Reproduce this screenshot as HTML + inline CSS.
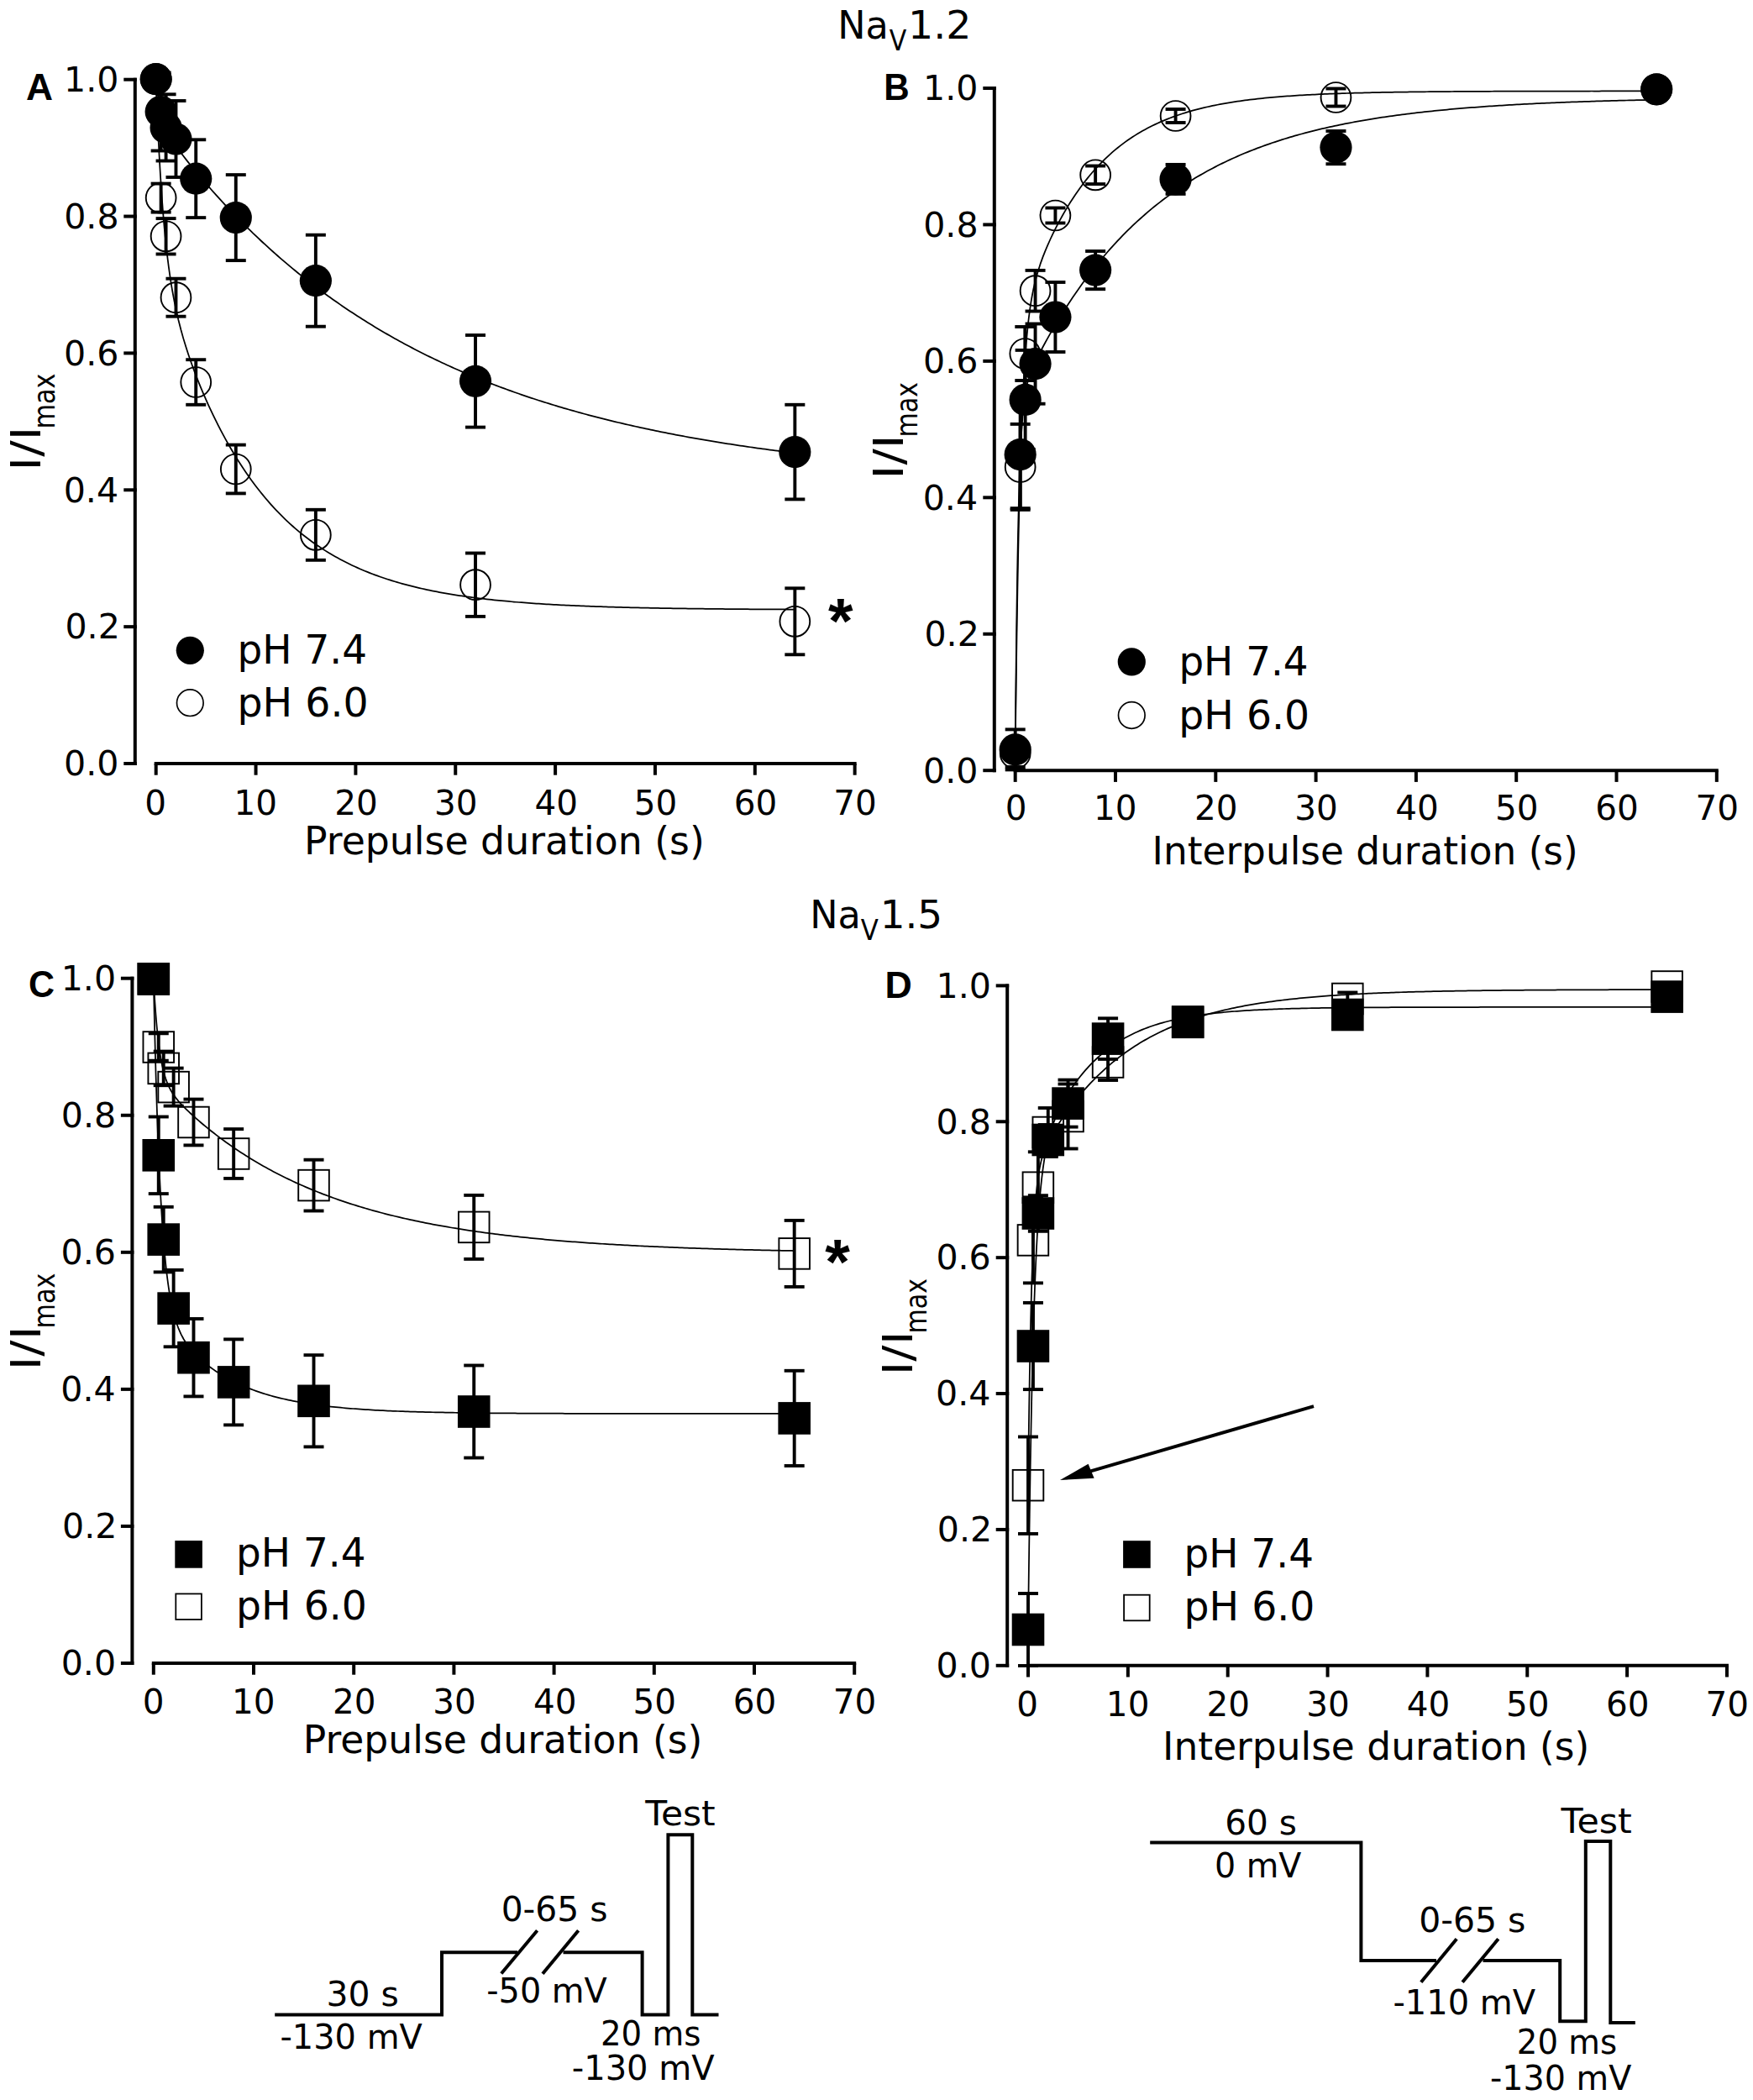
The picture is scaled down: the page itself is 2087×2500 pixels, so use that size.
<!DOCTYPE html>
<html><head><meta charset="utf-8"><title>Figure</title>
<style>html,body{margin:0;padding:0;background:#fff;overflow:hidden}svg{display:block}text{fill:#000;font-kerning:normal;white-space:pre}</style></head>
<body><svg width="2087" height="2500" viewBox="0 0 2087 2500">
<rect width="2087" height="2500" fill="#fff"/>
<line x1="160.8" y1="92.7" x2="160.8" y2="911" stroke="#000" stroke-width="4" stroke-linecap="butt"/>
<line x1="147.3" y1="909" x2="162.8" y2="909" stroke="#000" stroke-width="4" stroke-linecap="butt"/>
<text transform="translate(76.11,923.3) scale(1.0150,1)" font-size="40.5" font-family='"DejaVu Sans", "Liberation Sans", sans-serif'>0.0</text>
<line x1="147.3" y1="746.14" x2="162.8" y2="746.14" stroke="#000" stroke-width="4" stroke-linecap="butt"/>
<text transform="translate(77.45,760.44) scale(1.0150,1)" font-size="40.5" font-family='"DejaVu Sans", "Liberation Sans", sans-serif'>0.2</text>
<line x1="147.3" y1="583.28" x2="162.8" y2="583.28" stroke="#000" stroke-width="4" stroke-linecap="butt"/>
<text transform="translate(75.7,597.58) scale(1.0150,1)" font-size="40.5" font-family='"DejaVu Sans", "Liberation Sans", sans-serif'>0.4</text>
<line x1="147.3" y1="420.42" x2="162.8" y2="420.42" stroke="#000" stroke-width="4" stroke-linecap="butt"/>
<text transform="translate(76.01,434.72) scale(1.0150,1)" font-size="40.5" font-family='"DejaVu Sans", "Liberation Sans", sans-serif'>0.6</text>
<line x1="147.3" y1="257.56" x2="162.8" y2="257.56" stroke="#000" stroke-width="4" stroke-linecap="butt"/>
<text transform="translate(76.21,271.86) scale(1.0150,1)" font-size="40.5" font-family='"DejaVu Sans", "Liberation Sans", sans-serif'>0.8</text>
<line x1="147.3" y1="94.7" x2="162.8" y2="94.7" stroke="#000" stroke-width="4" stroke-linecap="butt"/>
<text transform="translate(76.11,109) scale(1.0150,1)" font-size="40.5" font-family='"DejaVu Sans", "Liberation Sans", sans-serif'>1.0</text>
<line x1="183.7" y1="909" x2="1019.65" y2="909" stroke="#000" stroke-width="4" stroke-linecap="butt"/>
<line x1="185.7" y1="909" x2="185.7" y2="922.7" stroke="#000" stroke-width="4" stroke-linecap="butt"/>
<text transform="translate(172.24,969.8) scale(1.0000,1)" font-size="40.5" font-family='"DejaVu Sans", "Liberation Sans", sans-serif'>0</text>
<line x1="304.55" y1="909" x2="304.55" y2="922.7" stroke="#000" stroke-width="4" stroke-linecap="butt"/>
<text transform="translate(278.57,969.8) scale(1.0000,1)" font-size="40.5" font-family='"DejaVu Sans", "Liberation Sans", sans-serif'>10</text>
<line x1="423.4" y1="909" x2="423.4" y2="922.7" stroke="#000" stroke-width="4" stroke-linecap="butt"/>
<text transform="translate(398.18,969.8) scale(1.0000,1)" font-size="40.5" font-family='"DejaVu Sans", "Liberation Sans", sans-serif'>20</text>
<line x1="542.25" y1="909" x2="542.25" y2="922.7" stroke="#000" stroke-width="4" stroke-linecap="butt"/>
<text transform="translate(516.98,969.8) scale(1.0000,1)" font-size="40.5" font-family='"DejaVu Sans", "Liberation Sans", sans-serif'>30</text>
<line x1="661.1" y1="909" x2="661.1" y2="922.7" stroke="#000" stroke-width="4" stroke-linecap="butt"/>
<text transform="translate(636.39,969.8) scale(1.0000,1)" font-size="40.5" font-family='"DejaVu Sans", "Liberation Sans", sans-serif'>40</text>
<line x1="779.95" y1="909" x2="779.95" y2="922.7" stroke="#000" stroke-width="4" stroke-linecap="butt"/>
<text transform="translate(754.63,969.8) scale(1.0000,1)" font-size="40.5" font-family='"DejaVu Sans", "Liberation Sans", sans-serif'>50</text>
<line x1="898.8" y1="909" x2="898.8" y2="922.7" stroke="#000" stroke-width="4" stroke-linecap="butt"/>
<text transform="translate(873.63,969.8) scale(1.0000,1)" font-size="40.5" font-family='"DejaVu Sans", "Liberation Sans", sans-serif'>60</text>
<line x1="1017.65" y1="909" x2="1017.65" y2="922.7" stroke="#000" stroke-width="4" stroke-linecap="butt"/>
<text transform="translate(992.23,969.8) scale(1.0000,1)" font-size="40.5" font-family='"DejaVu Sans", "Liberation Sans", sans-serif'>70</text>
<text transform="translate(362.04,1017) scale(0.9951,1)" font-size="46" font-family='"DejaVu Sans", "Liberation Sans", sans-serif'>Prepulse duration (s)</text>
<text transform="translate(47.9,560.82) rotate(-90) scale(1.1521,1)" font-size="50" font-family='"DejaVu Sans", "Liberation Sans", sans-serif'>I/I</text>
<text transform="translate(65.1,510.58) rotate(-90) scale(0.8533,1)" font-size="35.5" font-family='"DejaVu Sans", "Liberation Sans", sans-serif'>max</text>
<text transform="translate(30.89,118.7) scale(1.0075,1)" font-size="44" font-family='"Liberation Sans", sans-serif' font-weight="bold">A</text>
<polyline points="185.7,94.7 186,97.24 186.29,99.68 186.59,102.03 186.89,104.3 187.19,106.49 187.48,108.59 187.78,110.63 188.08,112.59 188.37,114.48 188.67,116.31 188.97,118.07 189.27,119.77 189.56,121.42 189.86,123.01 190.16,124.55 190.45,126.04 190.75,127.48 191.05,128.87 191.35,130.22 191.64,131.53 191.94,132.8 192.24,134.03 192.53,135.23 192.83,136.38 193.13,137.51 193.43,138.6 193.72,139.66 194.02,140.7 194.32,141.7 194.61,142.68 194.91,143.63 195.21,144.56 195.51,145.46 195.8,146.35 196.1,147.21 196.4,148.04 196.69,148.86 196.99,149.67 197.29,150.45 197.58,151.21 197.88,151.96 198.18,152.7 198.48,153.41 198.77,154.12 199.07,154.81 199.37,155.48 199.66,156.15 199.96,156.8 200.26,157.44 200.56,158.07 200.85,158.69 201.15,159.29 201.45,159.89 201.74,160.48 202.04,161.06 202.34,161.63 202.64,162.2 202.93,162.75 203.23,163.3 203.53,163.84 203.82,164.37 204.12,164.9 204.42,165.42 204.72,165.94 205.01,166.44 205.31,166.95 205.61,167.44 205.9,167.94 206.2,168.42 206.5,168.91 206.8,169.39 207.09,169.86 207.39,170.33 207.69,170.8 207.98,171.26 208.28,171.72 208.58,172.17 208.88,172.62 209.17,173.07 209.47,173.51 212.43,177.8 215.39,181.87 218.35,185.8 221.31,189.63 224.27,193.37 227.23,197.06 230.19,200.69 233.14,204.27 236.1,207.81 239.06,211.32 242.02,214.79 244.98,218.22 247.94,221.62 250.9,224.99 253.86,228.32 256.82,231.63 259.78,234.9 262.74,238.14 265.7,241.35 268.66,244.53 271.62,247.68 274.57,250.8 277.53,253.89 280.49,256.95 283.45,259.98 286.41,262.98 289.37,265.95 292.33,268.9 295.29,271.82 298.25,274.71 301.21,277.57 304.17,280.41 307.13,283.22 310.09,286 313.05,288.75 316.01,291.48 318.96,294.19 321.92,296.87 324.88,299.52 327.84,302.15 330.8,304.75 333.76,307.33 336.72,309.88 339.68,312.41 342.64,314.92 345.6,317.4 348.56,319.86 351.52,322.29 354.48,324.7 357.44,327.09 360.4,329.46 363.35,331.8 366.31,334.13 369.27,336.43 372.23,338.7 375.19,340.96 378.15,343.2 381.11,345.41 384.07,347.6 387.03,349.77 389.99,351.93 392.95,354.06 395.91,356.17 398.87,358.26 401.83,360.33 404.78,362.38 407.74,364.41 410.7,366.43 413.66,368.42 416.62,370.4 419.58,372.35 422.54,374.29 425.5,376.21 428.46,378.11 431.42,379.99 434.38,381.86 437.34,383.71 440.3,385.54 443.26,387.35 446.22,389.14 449.17,390.92 452.13,392.68 455.09,394.43 458.05,396.16 461.01,397.87 463.97,399.56 466.93,401.24 469.89,402.91 472.85,404.56 475.81,406.19 478.77,407.81 481.73,409.41 484.69,410.99 487.65,412.57 490.61,414.12 493.56,415.66 496.52,417.19 499.48,418.7 502.44,420.2 505.4,421.69 508.36,423.16 511.32,424.61 514.28,426.05 517.24,427.48 520.2,428.9 523.16,430.3 526.12,431.69 529.08,433.06 532.04,434.43 534.99,435.78 537.95,437.11 540.91,438.44 543.87,439.75 546.83,441.05 549.79,442.33 552.75,443.61 555.71,444.87 558.67,446.12 561.63,447.36 564.59,448.59 567.55,449.8 570.51,451 573.47,452.2 576.43,453.38 579.38,454.55 582.34,455.71 585.3,456.85 588.26,457.99 591.22,459.12 594.18,460.23 597.14,461.34 600.1,462.43 603.06,463.52 606.02,464.59 608.98,465.65 611.94,466.71 614.9,467.75 617.86,468.78 620.82,469.81 623.77,470.82 626.73,471.83 629.69,472.82 632.65,473.81 635.61,474.78 638.57,475.75 641.53,476.71 644.49,477.66 647.45,478.6 650.41,479.53 653.37,480.45 656.33,481.36 659.29,482.27 662.25,483.16 665.2,484.05 668.16,484.93 671.12,485.8 674.08,486.66 677.04,487.52 680,488.36 682.96,489.2 685.92,490.03 688.88,490.85 691.84,491.67 694.8,492.48 697.76,493.27 700.72,494.07 703.68,494.85 706.64,495.63 709.59,496.4 712.55,497.16 715.51,497.91 718.47,498.66 721.43,499.4 724.39,500.14 727.35,500.86 730.31,501.58 733.27,502.3 736.23,503 739.19,503.7 742.15,504.39 745.11,505.08 748.07,505.76 751.03,506.43 753.98,507.1 756.94,507.76 759.9,508.42 762.86,509.06 765.82,509.71 768.78,510.34 771.74,510.97 774.7,511.6 777.66,512.21 780.62,512.83 783.58,513.43 786.54,514.03 789.5,514.63 792.46,515.22 795.41,515.8 798.37,516.38 801.33,516.95 804.29,517.52 807.25,518.08 810.21,518.64 813.17,519.19 816.13,519.74 819.09,520.28 822.05,520.81 825.01,521.34 827.97,521.87 830.93,522.39 833.89,522.91 836.85,523.42 839.8,523.92 842.76,524.42 845.72,524.92 848.68,525.41 851.64,525.9 854.6,526.38 857.56,526.86 860.52,527.33 863.48,527.8 866.44,528.27 869.4,528.73 872.36,529.18 875.32,529.63 878.28,530.08 881.24,530.52 884.19,530.96 887.15,531.4 890.11,531.83 893.07,532.25 896.03,532.68 898.99,533.09 901.95,533.51 904.91,533.92 907.87,534.33 910.83,534.73 913.79,535.13 916.75,535.52 919.71,535.91 922.67,536.3 925.62,536.68 928.58,537.07 931.54,537.44 934.5,537.82 937.46,538.18 940.42,538.55 943.38,538.91 946.34,539.27" fill="none" stroke="#000" stroke-width="1.75" stroke-linejoin="round"/>
<polyline points="185.7,99.24 186,106.98 186.29,114.49 186.59,121.79 186.89,128.88 187.19,135.78 187.48,142.48 187.78,149 188.08,155.33 188.37,161.5 188.67,167.49 188.97,173.32 189.27,178.99 189.56,184.51 189.86,189.88 190.16,195.11 190.45,200.2 190.75,205.16 191.05,209.99 191.35,214.69 191.64,219.26 191.94,223.73 192.24,228.07 192.53,232.31 192.83,236.44 193.13,240.47 193.43,244.39 193.72,248.22 194.02,251.96 194.32,255.6 194.61,259.16 194.91,262.63 195.21,266.02 195.51,269.33 195.8,272.56 196.1,275.72 196.4,278.8 196.69,281.82 196.99,284.77 197.29,287.65 197.58,290.46 197.88,293.22 198.18,295.92 198.48,298.55 198.77,301.14 199.07,303.66 199.37,306.14 199.66,308.56 199.96,310.94 200.26,313.26 200.56,315.54 200.85,317.78 201.15,319.97 201.45,322.12 201.74,324.23 202.04,326.3 202.34,328.33 202.64,330.32 202.93,332.28 203.23,334.2 203.53,336.09 203.82,337.94 204.12,339.77 204.42,341.56 204.72,343.32 205.01,345.05 205.31,346.76 205.61,348.44 205.9,350.09 206.2,351.71 206.5,353.31 206.8,354.89 207.09,356.44 207.39,357.97 207.69,359.48 207.98,360.97 208.28,362.43 208.58,363.88 208.88,365.31 209.17,366.71 209.47,368.1 212.43,381.02 215.39,392.59 218.35,403.12 221.31,412.86 224.27,421.97 227.23,430.57 230.19,438.76 233.14,446.59 236.1,454.12 239.06,461.38 242.02,468.4 244.98,475.2 247.94,481.79 250.9,488.2 253.86,494.42 256.82,500.48 259.78,506.37 262.74,512.1 265.7,517.68 268.66,523.11 271.62,528.39 274.57,533.54 277.53,538.55 280.49,543.44 283.45,548.19 286.41,552.82 289.37,557.33 292.33,561.72 295.29,566 298.25,570.16 301.21,574.22 304.17,578.17 307.13,582.02 310.09,585.77 313.05,589.42 316.01,592.98 318.96,596.44 321.92,599.81 324.88,603.1 327.84,606.3 330.8,609.42 333.76,612.45 336.72,615.41 339.68,618.29 342.64,621.09 345.6,623.82 348.56,626.48 351.52,629.07 354.48,631.6 357.44,634.06 360.4,636.45 363.35,638.78 366.31,641.05 369.27,643.26 372.23,645.42 375.19,647.52 378.15,649.56 381.11,651.55 384.07,653.49 387.03,655.38 389.99,657.22 392.95,659.01 395.91,660.75 398.87,662.45 401.83,664.11 404.78,665.72 407.74,667.29 410.7,668.82 413.66,670.31 416.62,671.76 419.58,673.17 422.54,674.54 425.5,675.88 428.46,677.19 431.42,678.46 434.38,679.7 437.34,680.91 440.3,682.08 443.26,683.22 446.22,684.34 449.17,685.42 452.13,686.48 455.09,687.51 458.05,688.51 461.01,689.49 463.97,690.44 466.93,691.37 469.89,692.27 472.85,693.15 475.81,694 478.77,694.84 481.73,695.65 484.69,696.44 487.65,697.21 490.61,697.96 493.56,698.69 496.52,699.4 499.48,700.09 502.44,700.77 505.4,701.43 508.36,702.07 511.32,702.69 514.28,703.3 517.24,703.89 520.2,704.47 523.16,705.03 526.12,705.57 529.08,706.11 532.04,706.62 534.99,707.13 537.95,707.62 540.91,708.1 543.87,708.57 546.83,709.02 549.79,709.46 552.75,709.89 555.71,710.31 558.67,710.72 561.63,711.12 564.59,711.51 567.55,711.89 570.51,712.26 573.47,712.61 576.43,712.96 579.38,713.3 582.34,713.63 585.3,713.96 588.26,714.27 591.22,714.58 594.18,714.87 597.14,715.17 600.1,715.45 603.06,715.72 606.02,715.99 608.98,716.25 611.94,716.51 614.9,716.75 617.86,717 620.82,717.23 623.77,717.46 626.73,717.68 629.69,717.9 632.65,718.11 635.61,718.32 638.57,718.52 641.53,718.71 644.49,718.9 647.45,719.09 650.41,719.27 653.37,719.45 656.33,719.62 659.29,719.78 662.25,719.95 665.2,720.1 668.16,720.26 671.12,720.41 674.08,720.55 677.04,720.7 680,720.84 682.96,720.97 685.92,721.1 688.88,721.23 691.84,721.36 694.8,721.48 697.76,721.6 700.72,721.71 703.68,721.82 706.64,721.93 709.59,722.04 712.55,722.14 715.51,722.24 718.47,722.34 721.43,722.44 724.39,722.53 727.35,722.62 730.31,722.71 733.27,722.8 736.23,722.88 739.19,722.96 742.15,723.04 745.11,723.12 748.07,723.2 751.03,723.27 753.98,723.34 756.94,723.41 759.9,723.48 762.86,723.55 765.82,723.61 768.78,723.67 771.74,723.73 774.7,723.79 777.66,723.85 780.62,723.91 783.58,723.96 786.54,724.02 789.5,724.07 792.46,724.12 795.41,724.17 798.37,724.22 801.33,724.26 804.29,724.31 807.25,724.36 810.21,724.4 813.17,724.44 816.13,724.48 819.09,724.52 822.05,724.56 825.01,724.6 827.97,724.64 830.93,724.67 833.89,724.71 836.85,724.74 839.8,724.78 842.76,724.81 845.72,724.84 848.68,724.87 851.64,724.9 854.6,724.93 857.56,724.96 860.52,724.99 863.48,725.01 866.44,725.04 869.4,725.07 872.36,725.09 875.32,725.11 878.28,725.14 881.24,725.16 884.19,725.18 887.15,725.21 890.11,725.23 893.07,725.25 896.03,725.27 898.99,725.29 901.95,725.31 904.91,725.33 907.87,725.34 910.83,725.36 913.79,725.38 916.75,725.4 919.71,725.41 922.67,725.43 925.62,725.44 928.58,725.46 931.54,725.47 934.5,725.49 937.46,725.5 940.42,725.51 943.38,725.53 946.34,725.54" fill="none" stroke="#000" stroke-width="1.75" stroke-linejoin="round"/>
<line x1="191.64" y1="218.6" x2="191.64" y2="252.6" stroke="#000" stroke-width="3.9" stroke-linecap="butt"/>
<line x1="179.64" y1="218.6" x2="203.64" y2="218.6" stroke="#000" stroke-width="3.9" stroke-linecap="butt"/>
<line x1="179.64" y1="252.6" x2="203.64" y2="252.6" stroke="#000" stroke-width="3.9" stroke-linecap="butt"/>
<line x1="197.58" y1="260.1" x2="197.58" y2="302.5" stroke="#000" stroke-width="3.9" stroke-linecap="butt"/>
<line x1="185.58" y1="260.1" x2="209.58" y2="260.1" stroke="#000" stroke-width="3.9" stroke-linecap="butt"/>
<line x1="185.58" y1="302.5" x2="209.58" y2="302.5" stroke="#000" stroke-width="3.9" stroke-linecap="butt"/>
<line x1="209.47" y1="331.7" x2="209.47" y2="376.7" stroke="#000" stroke-width="3.9" stroke-linecap="butt"/>
<line x1="197.47" y1="331.7" x2="221.47" y2="331.7" stroke="#000" stroke-width="3.9" stroke-linecap="butt"/>
<line x1="197.47" y1="376.7" x2="221.47" y2="376.7" stroke="#000" stroke-width="3.9" stroke-linecap="butt"/>
<line x1="233.24" y1="428.2" x2="233.24" y2="481.8" stroke="#000" stroke-width="3.9" stroke-linecap="butt"/>
<line x1="221.24" y1="428.2" x2="245.24" y2="428.2" stroke="#000" stroke-width="3.9" stroke-linecap="butt"/>
<line x1="221.24" y1="481.8" x2="245.24" y2="481.8" stroke="#000" stroke-width="3.9" stroke-linecap="butt"/>
<line x1="280.78" y1="529.6" x2="280.78" y2="587.4" stroke="#000" stroke-width="3.9" stroke-linecap="butt"/>
<line x1="268.78" y1="529.6" x2="292.78" y2="529.6" stroke="#000" stroke-width="3.9" stroke-linecap="butt"/>
<line x1="268.78" y1="587.4" x2="292.78" y2="587.4" stroke="#000" stroke-width="3.9" stroke-linecap="butt"/>
<line x1="375.86" y1="606.8" x2="375.86" y2="666.8" stroke="#000" stroke-width="3.9" stroke-linecap="butt"/>
<line x1="363.86" y1="606.8" x2="387.86" y2="606.8" stroke="#000" stroke-width="3.9" stroke-linecap="butt"/>
<line x1="363.86" y1="666.8" x2="387.86" y2="666.8" stroke="#000" stroke-width="3.9" stroke-linecap="butt"/>
<line x1="566.02" y1="658.5" x2="566.02" y2="733.9" stroke="#000" stroke-width="3.9" stroke-linecap="butt"/>
<line x1="554.02" y1="658.5" x2="578.02" y2="658.5" stroke="#000" stroke-width="3.9" stroke-linecap="butt"/>
<line x1="554.02" y1="733.9" x2="578.02" y2="733.9" stroke="#000" stroke-width="3.9" stroke-linecap="butt"/>
<line x1="946.34" y1="700.3" x2="946.34" y2="779.3" stroke="#000" stroke-width="3.9" stroke-linecap="butt"/>
<line x1="934.34" y1="700.3" x2="958.34" y2="700.3" stroke="#000" stroke-width="3.9" stroke-linecap="butt"/>
<line x1="934.34" y1="779.3" x2="958.34" y2="779.3" stroke="#000" stroke-width="3.9" stroke-linecap="butt"/>
<circle cx="185.7" cy="94.2" r="17.9" fill="none" stroke="#000" stroke-width="1.9"/>
<circle cx="191.64" cy="235.6" r="17.9" fill="none" stroke="#000" stroke-width="1.9"/>
<circle cx="197.58" cy="281.3" r="17.9" fill="none" stroke="#000" stroke-width="1.9"/>
<circle cx="209.47" cy="354.2" r="17.9" fill="none" stroke="#000" stroke-width="1.9"/>
<circle cx="233.24" cy="455" r="17.9" fill="none" stroke="#000" stroke-width="1.9"/>
<circle cx="280.78" cy="558.5" r="17.9" fill="none" stroke="#000" stroke-width="1.9"/>
<circle cx="375.86" cy="636.8" r="17.9" fill="none" stroke="#000" stroke-width="1.9"/>
<circle cx="566.02" cy="696.2" r="17.9" fill="none" stroke="#000" stroke-width="1.9"/>
<circle cx="946.34" cy="739.8" r="17.9" fill="none" stroke="#000" stroke-width="1.9"/>
<line x1="191.64" y1="86.5" x2="191.64" y2="179.5" stroke="#000" stroke-width="3.9" stroke-linecap="butt"/>
<line x1="179.64" y1="86.5" x2="203.64" y2="86.5" stroke="#000" stroke-width="3.9" stroke-linecap="butt"/>
<line x1="179.64" y1="179.5" x2="203.64" y2="179.5" stroke="#000" stroke-width="3.9" stroke-linecap="butt"/>
<line x1="197.58" y1="112.3" x2="197.58" y2="191.5" stroke="#000" stroke-width="3.9" stroke-linecap="butt"/>
<line x1="185.58" y1="112.3" x2="209.58" y2="112.3" stroke="#000" stroke-width="3.9" stroke-linecap="butt"/>
<line x1="185.58" y1="191.5" x2="209.58" y2="191.5" stroke="#000" stroke-width="3.9" stroke-linecap="butt"/>
<line x1="209.47" y1="120" x2="209.47" y2="211" stroke="#000" stroke-width="3.9" stroke-linecap="butt"/>
<line x1="197.47" y1="120" x2="221.47" y2="120" stroke="#000" stroke-width="3.9" stroke-linecap="butt"/>
<line x1="197.47" y1="211" x2="221.47" y2="211" stroke="#000" stroke-width="3.9" stroke-linecap="butt"/>
<line x1="233.24" y1="166.3" x2="233.24" y2="259.1" stroke="#000" stroke-width="3.9" stroke-linecap="butt"/>
<line x1="221.24" y1="166.3" x2="245.24" y2="166.3" stroke="#000" stroke-width="3.9" stroke-linecap="butt"/>
<line x1="221.24" y1="259.1" x2="245.24" y2="259.1" stroke="#000" stroke-width="3.9" stroke-linecap="butt"/>
<line x1="280.78" y1="208.1" x2="280.78" y2="310.1" stroke="#000" stroke-width="3.9" stroke-linecap="butt"/>
<line x1="268.78" y1="208.1" x2="292.78" y2="208.1" stroke="#000" stroke-width="3.9" stroke-linecap="butt"/>
<line x1="268.78" y1="310.1" x2="292.78" y2="310.1" stroke="#000" stroke-width="3.9" stroke-linecap="butt"/>
<line x1="375.86" y1="279.7" x2="375.86" y2="388.7" stroke="#000" stroke-width="3.9" stroke-linecap="butt"/>
<line x1="363.86" y1="279.7" x2="387.86" y2="279.7" stroke="#000" stroke-width="3.9" stroke-linecap="butt"/>
<line x1="363.86" y1="388.7" x2="387.86" y2="388.7" stroke="#000" stroke-width="3.9" stroke-linecap="butt"/>
<line x1="566.02" y1="399" x2="566.02" y2="508.6" stroke="#000" stroke-width="3.9" stroke-linecap="butt"/>
<line x1="554.02" y1="399" x2="578.02" y2="399" stroke="#000" stroke-width="3.9" stroke-linecap="butt"/>
<line x1="554.02" y1="508.6" x2="578.02" y2="508.6" stroke="#000" stroke-width="3.9" stroke-linecap="butt"/>
<line x1="946.34" y1="481.8" x2="946.34" y2="594.4" stroke="#000" stroke-width="3.9" stroke-linecap="butt"/>
<line x1="934.34" y1="481.8" x2="958.34" y2="481.8" stroke="#000" stroke-width="3.9" stroke-linecap="butt"/>
<line x1="934.34" y1="594.4" x2="958.34" y2="594.4" stroke="#000" stroke-width="3.9" stroke-linecap="butt"/>
<circle cx="185.7" cy="94.2" r="19.1"/>
<circle cx="191.64" cy="133" r="19.1"/>
<circle cx="197.58" cy="151.9" r="19.1"/>
<circle cx="209.47" cy="165.5" r="19.1"/>
<circle cx="233.24" cy="212.7" r="19.1"/>
<circle cx="280.78" cy="259.1" r="19.1"/>
<circle cx="375.86" cy="334.2" r="19.1"/>
<circle cx="566.02" cy="453.8" r="19.1"/>
<circle cx="946.34" cy="538.1" r="19.1"/>
<circle cx="226.3" cy="774.3" r="16.6"/>
<circle cx="226.3" cy="836.7" r="15.8" fill="none" stroke="#000" stroke-width="1.7"/>
<text transform="translate(282.58,790.4) scale(0.9688,1)" font-size="48.4" font-family='"DejaVu Sans", "Liberation Sans", sans-serif'>pH 7.4</text>
<text transform="translate(282.54,852.7) scale(0.9784,1)" font-size="48.4" font-family='"DejaVu Sans", "Liberation Sans", sans-serif'>pH 6.0</text>
<line x1="1183.8" y1="103" x2="1183.8" y2="919.2" stroke="#000" stroke-width="4" stroke-linecap="butt"/>
<line x1="1170.3" y1="917.2" x2="1185.8" y2="917.2" stroke="#000" stroke-width="4" stroke-linecap="butt"/>
<text transform="translate(1099.11,931.5) scale(1.0150,1)" font-size="40.5" font-family='"DejaVu Sans", "Liberation Sans", sans-serif'>0.0</text>
<line x1="1170.3" y1="754.76" x2="1185.8" y2="754.76" stroke="#000" stroke-width="4" stroke-linecap="butt"/>
<text transform="translate(1100.45,769.06) scale(1.0150,1)" font-size="40.5" font-family='"DejaVu Sans", "Liberation Sans", sans-serif'>0.2</text>
<line x1="1170.3" y1="592.32" x2="1185.8" y2="592.32" stroke="#000" stroke-width="4" stroke-linecap="butt"/>
<text transform="translate(1098.7,606.62) scale(1.0150,1)" font-size="40.5" font-family='"DejaVu Sans", "Liberation Sans", sans-serif'>0.4</text>
<line x1="1170.3" y1="429.88" x2="1185.8" y2="429.88" stroke="#000" stroke-width="4" stroke-linecap="butt"/>
<text transform="translate(1099.01,444.18) scale(1.0150,1)" font-size="40.5" font-family='"DejaVu Sans", "Liberation Sans", sans-serif'>0.6</text>
<line x1="1170.3" y1="267.44" x2="1185.8" y2="267.44" stroke="#000" stroke-width="4" stroke-linecap="butt"/>
<text transform="translate(1099.21,281.74) scale(1.0150,1)" font-size="40.5" font-family='"DejaVu Sans", "Liberation Sans", sans-serif'>0.8</text>
<line x1="1170.3" y1="105" x2="1185.8" y2="105" stroke="#000" stroke-width="4" stroke-linecap="butt"/>
<text transform="translate(1099.11,119.3) scale(1.0150,1)" font-size="40.5" font-family='"DejaVu Sans", "Liberation Sans", sans-serif'>1.0</text>
<line x1="1206.7" y1="917.2" x2="2045.8" y2="917.2" stroke="#000" stroke-width="4" stroke-linecap="butt"/>
<line x1="1208.7" y1="917.2" x2="1208.7" y2="930.9" stroke="#000" stroke-width="4" stroke-linecap="butt"/>
<text transform="translate(1196.64,975.8) scale(1.0000,1)" font-size="40.5" font-family='"DejaVu Sans", "Liberation Sans", sans-serif'>0</text>
<line x1="1328" y1="917.2" x2="1328" y2="930.9" stroke="#000" stroke-width="4" stroke-linecap="butt"/>
<text transform="translate(1302.02,975.8) scale(1.0000,1)" font-size="40.5" font-family='"DejaVu Sans", "Liberation Sans", sans-serif'>10</text>
<line x1="1447.3" y1="917.2" x2="1447.3" y2="930.9" stroke="#000" stroke-width="4" stroke-linecap="butt"/>
<text transform="translate(1422.08,975.8) scale(1.0000,1)" font-size="40.5" font-family='"DejaVu Sans", "Liberation Sans", sans-serif'>20</text>
<line x1="1566.6" y1="917.2" x2="1566.6" y2="930.9" stroke="#000" stroke-width="4" stroke-linecap="butt"/>
<text transform="translate(1541.33,975.8) scale(1.0000,1)" font-size="40.5" font-family='"DejaVu Sans", "Liberation Sans", sans-serif'>30</text>
<line x1="1685.9" y1="917.2" x2="1685.9" y2="930.9" stroke="#000" stroke-width="4" stroke-linecap="butt"/>
<text transform="translate(1661.19,975.8) scale(1.0000,1)" font-size="40.5" font-family='"DejaVu Sans", "Liberation Sans", sans-serif'>40</text>
<line x1="1805.2" y1="917.2" x2="1805.2" y2="930.9" stroke="#000" stroke-width="4" stroke-linecap="butt"/>
<text transform="translate(1779.88,975.8) scale(1.0000,1)" font-size="40.5" font-family='"DejaVu Sans", "Liberation Sans", sans-serif'>50</text>
<line x1="1924.5" y1="917.2" x2="1924.5" y2="930.9" stroke="#000" stroke-width="4" stroke-linecap="butt"/>
<text transform="translate(1899.33,975.8) scale(1.0000,1)" font-size="40.5" font-family='"DejaVu Sans", "Liberation Sans", sans-serif'>60</text>
<line x1="2043.8" y1="917.2" x2="2043.8" y2="930.9" stroke="#000" stroke-width="4" stroke-linecap="butt"/>
<text transform="translate(2018.38,975.8) scale(1.0000,1)" font-size="40.5" font-family='"DejaVu Sans", "Liberation Sans", sans-serif'>70</text>
<text transform="translate(1371.57,1029) scale(0.9868,1)" font-size="46" font-family='"DejaVu Sans", "Liberation Sans", sans-serif'>Interpulse duration (s)</text>
<text transform="translate(1074.5,570.49) rotate(-90) scale(1.1458,1)" font-size="50" font-family='"DejaVu Sans", "Liberation Sans", sans-serif'>I/I</text>
<text transform="translate(1091.7,520.52) rotate(-90) scale(0.8487,1)" font-size="35.5" font-family='"DejaVu Sans", "Liberation Sans", sans-serif'>max</text>
<text transform="translate(1052.16,118.5) scale(0.9575,1)" font-size="44" font-family='"Liberation Sans", sans-serif' font-weight="bold">B</text>
<polyline points="1208.7,892.14 1209,858.29 1209.3,827.12 1209.59,798.41 1209.89,771.95 1210.19,747.58 1210.49,725.11 1210.79,704.4 1211.09,685.31 1211.38,667.7 1211.68,651.46 1211.98,636.48 1212.28,622.65 1212.58,609.88 1212.88,598.09 1213.17,587.2 1213.47,577.13 1213.77,567.83 1214.07,559.22 1214.37,551.25 1214.66,543.87 1214.96,537.04 1215.26,530.7 1215.56,524.83 1215.86,519.37 1216.16,514.31 1216.45,509.6 1216.75,505.22 1217.05,501.15 1217.35,497.35 1217.65,493.8 1217.95,490.49 1218.24,487.4 1218.54,484.51 1218.84,481.8 1219.14,479.26 1219.44,476.87 1219.74,474.63 1220.03,472.51 1220.33,470.52 1220.63,468.64 1220.93,466.86 1221.23,465.17 1221.52,463.57 1221.82,462.05 1222.12,460.61 1222.42,459.23 1222.72,457.91 1223.02,456.65 1223.31,455.45 1223.61,454.29 1223.91,453.18 1224.21,452.1 1224.51,451.07 1224.81,450.07 1225.1,449.1 1225.4,448.17 1225.7,447.26 1226,446.37 1226.3,445.51 1226.6,444.67 1226.89,443.85 1227.19,443.05 1227.49,442.27 1227.79,441.5 1228.09,440.75 1228.38,440.01 1228.68,439.28 1228.98,438.57 1229.28,437.86 1229.58,437.17 1229.88,436.48 1230.17,435.8 1230.47,435.13 1230.77,434.47 1231.07,433.82 1231.37,433.17 1231.67,432.53 1231.96,431.89 1232.26,431.26 1232.56,430.63 1235.53,424.6 1238.5,418.83 1241.47,413.23 1244.44,407.77 1247.41,402.41 1250.38,397.17 1253.35,392.01 1256.32,386.96 1259.29,382 1262.27,377.13 1265.24,372.34 1268.21,367.65 1271.18,363.04 1274.15,358.51 1277.12,354.07 1280.09,349.71 1283.06,345.43 1286.03,341.23 1289,337.1 1291.97,333.05 1294.94,329.07 1297.91,325.17 1300.88,321.34 1303.85,317.57 1306.82,313.88 1309.79,310.25 1312.76,306.69 1315.73,303.2 1318.71,299.77 1321.68,296.4 1324.65,293.09 1327.62,289.85 1330.59,286.66 1333.56,283.53 1336.53,280.46 1339.5,277.44 1342.47,274.48 1345.44,271.58 1348.41,268.73 1351.38,265.93 1354.35,263.18 1357.32,260.48 1360.29,257.83 1363.26,255.23 1366.23,252.67 1369.2,250.16 1372.17,247.7 1375.15,245.29 1378.12,242.91 1381.09,240.59 1384.06,238.3 1387.03,236.05 1390,233.85 1392.97,231.69 1395.94,229.56 1398.91,227.48 1401.88,225.43 1404.85,223.42 1407.82,221.45 1410.79,219.51 1413.76,217.61 1416.73,215.75 1419.7,213.92 1422.67,212.12 1425.64,210.35 1428.61,208.62 1431.58,206.92 1434.56,205.24 1437.53,203.6 1440.5,201.99 1443.47,200.41 1446.44,198.86 1449.41,197.34 1452.38,195.84 1455.35,194.37 1458.32,192.93 1461.29,191.52 1464.26,190.13 1467.23,188.77 1470.2,187.43 1473.17,186.11 1476.14,184.82 1479.11,183.55 1482.08,182.31 1485.05,181.09 1488.02,179.89 1491,178.72 1493.97,177.56 1496.94,176.43 1499.91,175.31 1502.88,174.22 1505.85,173.15 1508.82,172.09 1511.79,171.06 1514.76,170.04 1517.73,169.05 1520.7,168.07 1523.67,167.11 1526.64,166.17 1529.61,165.24 1532.58,164.33 1535.55,163.44 1538.52,162.56 1541.49,161.7 1544.46,160.86 1547.44,160.03 1550.41,159.22 1553.38,158.42 1556.35,157.63 1559.32,156.86 1562.29,156.11 1565.26,155.37 1568.23,154.64 1571.2,153.92 1574.17,153.22 1577.14,152.53 1580.11,151.86 1583.08,151.19 1586.05,150.54 1589.02,149.9 1591.99,149.27 1594.96,148.65 1597.93,148.05 1600.9,147.45 1603.88,146.87 1606.85,146.3 1609.82,145.74 1612.79,145.18 1615.76,144.64 1618.73,144.11 1621.7,143.59 1624.67,143.07 1627.64,142.57 1630.61,142.08 1633.58,141.59 1636.55,141.11 1639.52,140.65 1642.49,140.19 1645.46,139.74 1648.43,139.29 1651.4,138.86 1654.37,138.43 1657.34,138.01 1660.32,137.6 1663.29,137.2 1666.26,136.8 1669.23,136.41 1672.2,136.03 1675.17,135.66 1678.14,135.29 1681.11,134.93 1684.08,134.57 1687.05,134.23 1690.02,133.88 1692.99,133.55 1695.96,133.22 1698.93,132.9 1701.9,132.58 1704.87,132.27 1707.84,131.96 1710.81,131.66 1713.78,131.37 1716.76,131.08 1719.73,130.79 1722.7,130.51 1725.67,130.24 1728.64,129.97 1731.61,129.71 1734.58,129.45 1737.55,129.19 1740.52,128.94 1743.49,128.7 1746.46,128.46 1749.43,128.22 1752.4,127.99 1755.37,127.76 1758.34,127.54 1761.31,127.32 1764.28,127.1 1767.25,126.89 1770.22,126.68 1773.2,126.48 1776.17,126.28 1779.14,126.08 1782.11,125.89 1785.08,125.7 1788.05,125.51 1791.02,125.33 1793.99,125.15 1796.96,124.98 1799.93,124.8 1802.9,124.63 1805.87,124.47 1808.84,124.3 1811.81,124.14 1814.78,123.99 1817.75,123.83 1820.72,123.68 1823.69,123.53 1826.66,123.38 1829.63,123.24 1832.61,123.1 1835.58,122.96 1838.55,122.83 1841.52,122.69 1844.49,122.56 1847.46,122.43 1850.43,122.31 1853.4,122.18 1856.37,122.06 1859.34,121.94 1862.31,121.82 1865.28,121.71 1868.25,121.6 1871.22,121.49 1874.19,121.38 1877.16,121.27 1880.13,121.16 1883.1,121.06 1886.07,120.96 1889.05,120.86 1892.02,120.76 1894.99,120.67 1897.96,120.57 1900.93,120.48 1903.9,120.39 1906.87,120.3 1909.84,120.22 1912.81,120.13 1915.78,120.05 1918.75,119.96 1921.72,119.88 1924.69,119.8 1927.66,119.72 1930.63,119.65 1933.6,119.57 1936.57,119.5 1939.54,119.43 1942.51,119.35 1945.49,119.28 1948.46,119.22 1951.43,119.15 1954.4,119.08 1957.37,119.02 1960.34,118.95 1963.31,118.89 1966.28,118.83 1969.25,118.77 1972.22,118.71" fill="none" stroke="#000" stroke-width="1.75" stroke-linejoin="round"/>
<polyline points="1208.7,896.76 1209,870.7 1209.3,845.9 1209.59,822.3 1209.89,799.83 1210.19,778.45 1210.49,758.09 1210.79,738.71 1211.09,720.25 1211.38,702.68 1211.68,685.94 1211.98,669.99 1212.28,654.8 1212.58,640.32 1212.88,626.53 1213.17,613.38 1213.47,600.85 1213.77,588.9 1214.07,577.51 1214.37,566.64 1214.66,556.27 1214.96,546.38 1215.26,536.94 1215.56,527.93 1215.86,519.33 1216.16,511.11 1216.45,503.27 1216.75,495.77 1217.05,488.61 1217.35,481.76 1217.65,475.21 1217.95,468.95 1218.24,462.96 1218.54,457.23 1218.84,451.74 1219.14,446.49 1219.44,441.45 1219.74,436.63 1220.03,432.01 1220.33,427.57 1220.63,423.32 1220.93,419.24 1221.23,415.32 1221.52,411.56 1221.82,407.94 1222.12,404.47 1222.42,401.12 1222.72,397.91 1223.02,394.82 1223.31,391.84 1223.61,388.97 1223.91,386.2 1224.21,383.53 1224.51,380.96 1224.81,378.47 1225.1,376.07 1225.4,373.75 1225.7,371.51 1226,369.34 1226.3,367.24 1226.6,365.21 1226.89,363.24 1227.19,361.33 1227.49,359.47 1227.79,357.68 1228.09,355.93 1228.38,354.23 1228.68,352.58 1228.98,350.98 1229.28,349.41 1229.58,347.89 1229.88,346.41 1230.17,344.96 1230.47,343.55 1230.77,342.17 1231.07,340.83 1231.37,339.52 1231.67,338.23 1231.96,336.97 1232.26,335.74 1232.56,334.54 1235.53,323.69 1238.5,314.41 1241.47,306.16 1244.44,298.63 1247.41,291.61 1250.38,285 1253.35,278.7 1256.32,272.68 1259.29,266.9 1262.27,261.35 1265.24,256 1268.21,250.84 1271.18,245.86 1274.15,241.07 1277.12,236.44 1280.09,231.97 1283.06,227.66 1286.03,223.5 1289,219.49 1291.97,215.61 1294.94,211.87 1297.91,208.27 1300.88,204.78 1303.85,201.42 1306.82,198.18 1309.79,195.05 1312.76,192.03 1315.73,189.11 1318.71,186.3 1321.68,183.58 1324.65,180.96 1327.62,178.43 1330.59,175.99 1333.56,173.63 1336.53,171.36 1339.5,169.16 1342.47,167.04 1345.44,165 1348.41,163.02 1351.38,161.12 1354.35,159.28 1357.32,157.51 1360.29,155.8 1363.26,154.14 1366.23,152.55 1369.2,151.01 1372.17,149.52 1375.15,148.09 1378.12,146.71 1381.09,145.37 1384.06,144.08 1387.03,142.84 1390,141.64 1392.97,140.48 1395.94,139.36 1398.91,138.28 1401.88,137.24 1404.85,136.24 1407.82,135.27 1410.79,134.33 1413.76,133.43 1416.73,132.56 1419.7,131.71 1422.67,130.9 1425.64,130.12 1428.61,129.36 1431.58,128.63 1434.56,127.93 1437.53,127.25 1440.5,126.59 1443.47,125.96 1446.44,125.34 1449.41,124.75 1452.38,124.18 1455.35,123.63 1458.32,123.1 1461.29,122.59 1464.26,122.1 1467.23,121.62 1470.2,121.16 1473.17,120.72 1476.14,120.29 1479.11,119.87 1482.08,119.47 1485.05,119.09 1488.02,118.72 1491,118.36 1493.97,118.01 1496.94,117.68 1499.91,117.35 1502.88,117.04 1505.85,116.74 1508.82,116.45 1511.79,116.17 1514.76,115.9 1517.73,115.64 1520.7,115.39 1523.67,115.15 1526.64,114.91 1529.61,114.69 1532.58,114.47 1535.55,114.26 1538.52,114.05 1541.49,113.86 1544.46,113.67 1547.44,113.48 1550.41,113.31 1553.38,113.14 1556.35,112.97 1559.32,112.81 1562.29,112.66 1565.26,112.51 1568.23,112.37 1571.2,112.23 1574.17,112.1 1577.14,111.97 1580.11,111.85 1583.08,111.73 1586.05,111.61 1589.02,111.5 1591.99,111.4 1594.96,111.29 1597.93,111.19 1600.9,111.1 1603.88,111 1606.85,110.91 1609.82,110.83 1612.79,110.74 1615.76,110.66 1618.73,110.58 1621.7,110.51 1624.67,110.43 1627.64,110.36 1630.61,110.3 1633.58,110.23 1636.55,110.17 1639.52,110.11 1642.49,110.05 1645.46,109.99 1648.43,109.94 1651.4,109.88 1654.37,109.83 1657.34,109.78 1660.32,109.74 1663.29,109.69 1666.26,109.65 1669.23,109.6 1672.2,109.56 1675.17,109.52 1678.14,109.49 1681.11,109.45 1684.08,109.41 1687.05,109.38 1690.02,109.35 1692.99,109.31 1695.96,109.28 1698.93,109.25 1701.9,109.22 1704.87,109.2 1707.84,109.17 1710.81,109.14 1713.78,109.12 1716.76,109.09 1719.73,109.07 1722.7,109.05 1725.67,109.03 1728.64,109 1731.61,108.98 1734.58,108.96 1737.55,108.95 1740.52,108.93 1743.49,108.91 1746.46,108.89 1749.43,108.88 1752.4,108.86 1755.37,108.85 1758.34,108.83 1761.31,108.82 1764.28,108.8 1767.25,108.79 1770.22,108.78 1773.2,108.77 1776.17,108.75 1779.14,108.74 1782.11,108.73 1785.08,108.72 1788.05,108.71 1791.02,108.7 1793.99,108.69 1796.96,108.68 1799.93,108.67 1802.9,108.66 1805.87,108.66 1808.84,108.65 1811.81,108.64 1814.78,108.63 1817.75,108.62 1820.72,108.62 1823.69,108.61 1826.66,108.6 1829.63,108.6 1832.61,108.59 1835.58,108.59 1838.55,108.58 1841.52,108.58 1844.49,108.57 1847.46,108.56 1850.43,108.56 1853.4,108.56 1856.37,108.55 1859.34,108.55 1862.31,108.54 1865.28,108.54 1868.25,108.53 1871.22,108.53 1874.19,108.53 1877.16,108.52 1880.13,108.52 1883.1,108.52 1886.07,108.51 1889.05,108.51 1892.02,108.51 1894.99,108.5 1897.96,108.5 1900.93,108.5 1903.9,108.5 1906.87,108.49 1909.84,108.49 1912.81,108.49 1915.78,108.49 1918.75,108.48 1921.72,108.48 1924.69,108.48 1927.66,108.48 1930.63,108.48 1933.6,108.47 1936.57,108.47 1939.54,108.47 1942.51,108.47 1945.49,108.47 1948.46,108.47 1951.43,108.46 1954.4,108.46 1957.37,108.46 1960.34,108.46 1963.31,108.46 1966.28,108.46 1969.25,108.46 1972.22,108.46" fill="none" stroke="#000" stroke-width="1.75" stroke-linejoin="round"/>
<line x1="1208.7" y1="881" x2="1208.7" y2="913" stroke="#000" stroke-width="3.9" stroke-linecap="butt"/>
<line x1="1196.7" y1="881" x2="1220.7" y2="881" stroke="#000" stroke-width="3.9" stroke-linecap="butt"/>
<line x1="1196.7" y1="913" x2="1220.7" y2="913" stroke="#000" stroke-width="3.9" stroke-linecap="butt"/>
<line x1="1214.66" y1="504.9" x2="1214.66" y2="606.9" stroke="#000" stroke-width="3.9" stroke-linecap="butt"/>
<line x1="1202.66" y1="504.9" x2="1226.66" y2="504.9" stroke="#000" stroke-width="3.9" stroke-linecap="butt"/>
<line x1="1202.66" y1="606.9" x2="1226.66" y2="606.9" stroke="#000" stroke-width="3.9" stroke-linecap="butt"/>
<line x1="1220.3" y1="389" x2="1220.3" y2="453" stroke="#000" stroke-width="3.9" stroke-linecap="butt"/>
<line x1="1208.3" y1="389" x2="1232.3" y2="389" stroke="#000" stroke-width="3.9" stroke-linecap="butt"/>
<line x1="1208.3" y1="453" x2="1232.3" y2="453" stroke="#000" stroke-width="3.9" stroke-linecap="butt"/>
<line x1="1232.56" y1="321.9" x2="1232.56" y2="370.5" stroke="#000" stroke-width="3.9" stroke-linecap="butt"/>
<line x1="1220.56" y1="321.9" x2="1244.56" y2="321.9" stroke="#000" stroke-width="3.9" stroke-linecap="butt"/>
<line x1="1220.56" y1="370.5" x2="1244.56" y2="370.5" stroke="#000" stroke-width="3.9" stroke-linecap="butt"/>
<line x1="1256.42" y1="247.5" x2="1256.42" y2="265.5" stroke="#000" stroke-width="3.9" stroke-linecap="butt"/>
<line x1="1244.42" y1="247.5" x2="1268.42" y2="247.5" stroke="#000" stroke-width="3.9" stroke-linecap="butt"/>
<line x1="1244.42" y1="265.5" x2="1268.42" y2="265.5" stroke="#000" stroke-width="3.9" stroke-linecap="butt"/>
<line x1="1304.14" y1="197.5" x2="1304.14" y2="219.1" stroke="#000" stroke-width="3.9" stroke-linecap="butt"/>
<line x1="1292.14" y1="197.5" x2="1316.14" y2="197.5" stroke="#000" stroke-width="3.9" stroke-linecap="butt"/>
<line x1="1292.14" y1="219.1" x2="1316.14" y2="219.1" stroke="#000" stroke-width="3.9" stroke-linecap="butt"/>
<line x1="1399.58" y1="130" x2="1399.58" y2="146" stroke="#000" stroke-width="3.9" stroke-linecap="butt"/>
<line x1="1387.58" y1="130" x2="1411.58" y2="130" stroke="#000" stroke-width="3.9" stroke-linecap="butt"/>
<line x1="1387.58" y1="146" x2="1411.58" y2="146" stroke="#000" stroke-width="3.9" stroke-linecap="butt"/>
<line x1="1590.46" y1="105.5" x2="1590.46" y2="126.5" stroke="#000" stroke-width="3.9" stroke-linecap="butt"/>
<line x1="1578.46" y1="105.5" x2="1602.46" y2="105.5" stroke="#000" stroke-width="3.9" stroke-linecap="butt"/>
<line x1="1578.46" y1="126.5" x2="1602.46" y2="126.5" stroke="#000" stroke-width="3.9" stroke-linecap="butt"/>
<circle cx="1208.7" cy="897" r="17.9" fill="none" stroke="#000" stroke-width="1.9"/>
<circle cx="1214.66" cy="555.9" r="17.9" fill="none" stroke="#000" stroke-width="1.9"/>
<circle cx="1220.3" cy="421" r="17.9" fill="none" stroke="#000" stroke-width="1.9"/>
<circle cx="1232.56" cy="346.2" r="17.9" fill="none" stroke="#000" stroke-width="1.9"/>
<circle cx="1256.42" cy="256.5" r="17.9" fill="none" stroke="#000" stroke-width="1.9"/>
<circle cx="1304.14" cy="208.3" r="17.9" fill="none" stroke="#000" stroke-width="1.9"/>
<circle cx="1399.58" cy="138" r="17.9" fill="none" stroke="#000" stroke-width="1.9"/>
<circle cx="1590.46" cy="116" r="17.9" fill="none" stroke="#000" stroke-width="1.9"/>
<circle cx="1972.22" cy="106.3" r="17.9" fill="none" stroke="#000" stroke-width="1.9"/>
<line x1="1208.7" y1="868.4" x2="1208.7" y2="916.4" stroke="#000" stroke-width="3.9" stroke-linecap="butt"/>
<line x1="1196.7" y1="868.4" x2="1220.7" y2="868.4" stroke="#000" stroke-width="3.9" stroke-linecap="butt"/>
<line x1="1196.7" y1="916.4" x2="1220.7" y2="916.4" stroke="#000" stroke-width="3.9" stroke-linecap="butt"/>
<line x1="1214.66" y1="477.1" x2="1214.66" y2="605.1" stroke="#000" stroke-width="3.9" stroke-linecap="butt"/>
<line x1="1202.66" y1="477.1" x2="1226.66" y2="477.1" stroke="#000" stroke-width="3.9" stroke-linecap="butt"/>
<line x1="1202.66" y1="605.1" x2="1226.66" y2="605.1" stroke="#000" stroke-width="3.9" stroke-linecap="butt"/>
<line x1="1220.63" y1="416.9" x2="1220.63" y2="534.9" stroke="#000" stroke-width="3.9" stroke-linecap="butt"/>
<line x1="1208.63" y1="416.9" x2="1232.63" y2="416.9" stroke="#000" stroke-width="3.9" stroke-linecap="butt"/>
<line x1="1208.63" y1="534.9" x2="1232.63" y2="534.9" stroke="#000" stroke-width="3.9" stroke-linecap="butt"/>
<line x1="1232.56" y1="385.5" x2="1232.56" y2="480.7" stroke="#000" stroke-width="3.9" stroke-linecap="butt"/>
<line x1="1220.56" y1="385.5" x2="1244.56" y2="385.5" stroke="#000" stroke-width="3.9" stroke-linecap="butt"/>
<line x1="1220.56" y1="480.7" x2="1244.56" y2="480.7" stroke="#000" stroke-width="3.9" stroke-linecap="butt"/>
<line x1="1256.42" y1="336" x2="1256.42" y2="419" stroke="#000" stroke-width="3.9" stroke-linecap="butt"/>
<line x1="1244.42" y1="336" x2="1268.42" y2="336" stroke="#000" stroke-width="3.9" stroke-linecap="butt"/>
<line x1="1244.42" y1="419" x2="1268.42" y2="419" stroke="#000" stroke-width="3.9" stroke-linecap="butt"/>
<line x1="1304.14" y1="299" x2="1304.14" y2="344.2" stroke="#000" stroke-width="3.9" stroke-linecap="butt"/>
<line x1="1292.14" y1="299" x2="1316.14" y2="299" stroke="#000" stroke-width="3.9" stroke-linecap="butt"/>
<line x1="1292.14" y1="344.2" x2="1316.14" y2="344.2" stroke="#000" stroke-width="3.9" stroke-linecap="butt"/>
<line x1="1399.58" y1="195.9" x2="1399.58" y2="230.9" stroke="#000" stroke-width="3.9" stroke-linecap="butt"/>
<line x1="1387.58" y1="195.9" x2="1411.58" y2="195.9" stroke="#000" stroke-width="3.9" stroke-linecap="butt"/>
<line x1="1387.58" y1="230.9" x2="1411.58" y2="230.9" stroke="#000" stroke-width="3.9" stroke-linecap="butt"/>
<line x1="1590.46" y1="156" x2="1590.46" y2="195.2" stroke="#000" stroke-width="3.9" stroke-linecap="butt"/>
<line x1="1578.46" y1="156" x2="1602.46" y2="156" stroke="#000" stroke-width="3.9" stroke-linecap="butt"/>
<line x1="1578.46" y1="195.2" x2="1602.46" y2="195.2" stroke="#000" stroke-width="3.9" stroke-linecap="butt"/>
<circle cx="1208.7" cy="892.4" r="19.1"/>
<circle cx="1214.66" cy="541.1" r="19.1"/>
<circle cx="1220.63" cy="475.9" r="19.1"/>
<circle cx="1232.56" cy="433.1" r="19.1"/>
<circle cx="1256.42" cy="377.5" r="19.1"/>
<circle cx="1304.14" cy="321.6" r="19.1"/>
<circle cx="1399.58" cy="213.4" r="19.1"/>
<circle cx="1590.46" cy="175.6" r="19.1"/>
<circle cx="1972.22" cy="106.3" r="19.1"/>
<circle cx="1347.3" cy="787.9" r="16.6"/>
<circle cx="1347.3" cy="851.5" r="15.8" fill="none" stroke="#000" stroke-width="1.7"/>
<text transform="translate(1403.39,803.6) scale(0.9668,1)" font-size="48.4" font-family='"DejaVu Sans", "Liberation Sans", sans-serif'>pH 7.4</text>
<text transform="translate(1403.35,867.5) scale(0.9765,1)" font-size="48.4" font-family='"DejaVu Sans", "Liberation Sans", sans-serif'>pH 6.0</text>
<line x1="157.4" y1="1162.7" x2="157.4" y2="1982" stroke="#000" stroke-width="4" stroke-linecap="butt"/>
<line x1="143.9" y1="1980" x2="159.4" y2="1980" stroke="#000" stroke-width="4" stroke-linecap="butt"/>
<text transform="translate(72.71,1994.3) scale(1.0150,1)" font-size="40.5" font-family='"DejaVu Sans", "Liberation Sans", sans-serif'>0.0</text>
<line x1="143.9" y1="1816.94" x2="159.4" y2="1816.94" stroke="#000" stroke-width="4" stroke-linecap="butt"/>
<text transform="translate(74.05,1831.24) scale(1.0150,1)" font-size="40.5" font-family='"DejaVu Sans", "Liberation Sans", sans-serif'>0.2</text>
<line x1="143.9" y1="1653.88" x2="159.4" y2="1653.88" stroke="#000" stroke-width="4" stroke-linecap="butt"/>
<text transform="translate(72.3,1668.18) scale(1.0150,1)" font-size="40.5" font-family='"DejaVu Sans", "Liberation Sans", sans-serif'>0.4</text>
<line x1="143.9" y1="1490.82" x2="159.4" y2="1490.82" stroke="#000" stroke-width="4" stroke-linecap="butt"/>
<text transform="translate(72.61,1505.12) scale(1.0150,1)" font-size="40.5" font-family='"DejaVu Sans", "Liberation Sans", sans-serif'>0.6</text>
<line x1="143.9" y1="1327.76" x2="159.4" y2="1327.76" stroke="#000" stroke-width="4" stroke-linecap="butt"/>
<text transform="translate(72.81,1342.06) scale(1.0150,1)" font-size="40.5" font-family='"DejaVu Sans", "Liberation Sans", sans-serif'>0.8</text>
<line x1="143.9" y1="1164.7" x2="159.4" y2="1164.7" stroke="#000" stroke-width="4" stroke-linecap="butt"/>
<text transform="translate(72.71,1179) scale(1.0150,1)" font-size="40.5" font-family='"DejaVu Sans", "Liberation Sans", sans-serif'>1.0</text>
<line x1="180.8" y1="1980" x2="1019.2" y2="1980" stroke="#000" stroke-width="4" stroke-linecap="butt"/>
<line x1="182.8" y1="1980" x2="182.8" y2="1993.7" stroke="#000" stroke-width="4" stroke-linecap="butt"/>
<text transform="translate(169.84,2040.3) scale(1.0000,1)" font-size="40.5" font-family='"DejaVu Sans", "Liberation Sans", sans-serif'>0</text>
<line x1="302" y1="1980" x2="302" y2="1993.7" stroke="#000" stroke-width="4" stroke-linecap="butt"/>
<text transform="translate(276.02,2040.3) scale(1.0000,1)" font-size="40.5" font-family='"DejaVu Sans", "Liberation Sans", sans-serif'>10</text>
<line x1="421.2" y1="1980" x2="421.2" y2="1993.7" stroke="#000" stroke-width="4" stroke-linecap="butt"/>
<text transform="translate(395.98,2040.3) scale(1.0000,1)" font-size="40.5" font-family='"DejaVu Sans", "Liberation Sans", sans-serif'>20</text>
<line x1="540.4" y1="1980" x2="540.4" y2="1993.7" stroke="#000" stroke-width="4" stroke-linecap="butt"/>
<text transform="translate(515.13,2040.3) scale(1.0000,1)" font-size="40.5" font-family='"DejaVu Sans", "Liberation Sans", sans-serif'>30</text>
<line x1="659.6" y1="1980" x2="659.6" y2="1993.7" stroke="#000" stroke-width="4" stroke-linecap="butt"/>
<text transform="translate(634.89,2040.3) scale(1.0000,1)" font-size="40.5" font-family='"DejaVu Sans", "Liberation Sans", sans-serif'>40</text>
<line x1="778.8" y1="1980" x2="778.8" y2="1993.7" stroke="#000" stroke-width="4" stroke-linecap="butt"/>
<text transform="translate(753.48,2040.3) scale(1.0000,1)" font-size="40.5" font-family='"DejaVu Sans", "Liberation Sans", sans-serif'>50</text>
<line x1="898" y1="1980" x2="898" y2="1993.7" stroke="#000" stroke-width="4" stroke-linecap="butt"/>
<text transform="translate(872.83,2040.3) scale(1.0000,1)" font-size="40.5" font-family='"DejaVu Sans", "Liberation Sans", sans-serif'>60</text>
<line x1="1017.2" y1="1980" x2="1017.2" y2="1993.7" stroke="#000" stroke-width="4" stroke-linecap="butt"/>
<text transform="translate(991.78,2040.3) scale(1.0000,1)" font-size="40.5" font-family='"DejaVu Sans", "Liberation Sans", sans-serif'>70</text>
<text transform="translate(360.75,2087) scale(0.9928,1)" font-size="46" font-family='"DejaVu Sans", "Liberation Sans", sans-serif'>Prepulse duration (s)</text>
<text transform="translate(47.9,1631.6) rotate(-90) scale(1.1490,1)" font-size="50" font-family='"DejaVu Sans", "Liberation Sans", sans-serif'>I/I</text>
<text transform="translate(65.1,1581.5) rotate(-90) scale(0.8510,1)" font-size="35.5" font-family='"DejaVu Sans", "Liberation Sans", sans-serif'>max</text>
<text transform="translate(34.08,1187.3) scale(0.9750,1)" font-size="44" font-family='"Liberation Sans", sans-serif' font-weight="bold">C</text>
<polyline points="182.8,1166.51 183.1,1180.45 183.4,1193.91 183.69,1206.92 183.99,1219.49 184.29,1231.64 184.59,1243.38 184.89,1254.72 185.18,1265.68 185.48,1276.27 185.78,1286.5 186.08,1296.4 186.38,1305.96 186.67,1315.2 186.97,1324.13 187.27,1332.77 187.57,1341.12 187.87,1349.19 188.16,1356.99 188.46,1364.54 188.76,1371.84 189.06,1378.89 189.36,1385.71 189.65,1392.31 189.95,1398.7 190.25,1404.87 190.55,1410.84 190.85,1416.62 191.14,1422.21 191.44,1427.62 191.74,1432.85 192.04,1437.92 192.34,1442.82 192.63,1447.56 192.93,1452.15 193.23,1456.6 193.53,1460.9 193.83,1465.07 194.12,1469.11 194.42,1473.01 194.72,1476.8 195.02,1480.47 195.32,1484.02 195.61,1487.46 195.91,1490.79 196.21,1494.02 196.51,1497.15 196.81,1500.19 197.1,1503.13 197.4,1505.98 197.7,1508.75 198,1511.43 198.3,1514.03 198.59,1516.56 198.89,1519.01 199.19,1521.38 199.49,1523.69 199.79,1525.93 200.08,1528.1 200.38,1530.21 200.68,1532.26 200.98,1534.25 201.28,1536.18 201.57,1538.06 201.87,1539.88 202.17,1541.66 202.47,1543.38 202.77,1545.06 203.06,1546.69 203.36,1548.27 203.66,1549.82 203.96,1551.32 204.26,1552.78 204.55,1554.2 204.85,1555.58 205.15,1556.93 205.45,1558.24 205.75,1559.52 206.04,1560.76 206.34,1561.98 206.64,1563.16 209.61,1573.49 212.58,1581.69 215.54,1588.38 218.51,1593.97 221.48,1598.75 224.45,1602.93 227.42,1606.66 230.38,1610.05 233.35,1613.16 236.32,1616.06 239.29,1618.77 242.26,1621.33 245.22,1623.76 248.19,1626.08 251.16,1628.28 254.13,1630.39 257.1,1632.42 260.06,1634.36 263.03,1636.22 266,1638.01 268.97,1639.72 271.94,1641.37 274.9,1642.96 277.87,1644.49 280.84,1645.95 283.81,1647.36 286.78,1648.72 289.74,1650.03 292.71,1651.28 295.68,1652.49 298.65,1653.65 301.62,1654.77 304.59,1655.84 307.55,1656.87 310.52,1657.87 313.49,1658.83 316.46,1659.74 319.43,1660.63 322.39,1661.48 325.36,1662.3 328.33,1663.09 331.3,1663.84 334.27,1664.57 337.23,1665.27 340.2,1665.95 343.17,1666.6 346.14,1667.22 349.11,1667.82 352.07,1668.4 355.04,1668.95 358.01,1669.49 360.98,1670 363.95,1670.49 366.91,1670.97 369.88,1671.43 372.85,1671.87 375.82,1672.29 378.79,1672.7 381.75,1673.09 384.72,1673.46 387.69,1673.83 390.66,1674.17 393.63,1674.51 396.59,1674.83 399.56,1675.14 402.53,1675.44 405.5,1675.73 408.47,1676 411.43,1676.27 414.4,1676.52 417.37,1676.77 420.34,1677 423.31,1677.23 426.27,1677.45 429.24,1677.66 432.21,1677.86 435.18,1678.06 438.15,1678.24 441.11,1678.42 444.08,1678.6 447.05,1678.76 450.02,1678.92 452.99,1679.08 455.95,1679.23 458.92,1679.37 461.89,1679.51 464.86,1679.64 467.83,1679.76 470.79,1679.89 473.76,1680 476.73,1680.12 479.7,1680.23 482.67,1680.33 485.64,1680.43 488.6,1680.53 491.57,1680.62 494.54,1680.71 497.51,1680.8 500.48,1680.88 503.44,1680.96 506.41,1681.03 509.38,1681.11 512.35,1681.18 515.32,1681.25 518.28,1681.31 521.25,1681.38 524.22,1681.44 527.19,1681.49 530.16,1681.55 533.12,1681.6 536.09,1681.66 539.06,1681.71 542.03,1681.75 545,1681.8 547.96,1681.85 550.93,1681.89 553.9,1681.93 556.87,1681.97 559.84,1682.01 562.8,1682.04 565.77,1682.08 568.74,1682.11 571.71,1682.14 574.68,1682.18 577.64,1682.21 580.61,1682.24 583.58,1682.26 586.55,1682.29 589.52,1682.32 592.48,1682.34 595.45,1682.36 598.42,1682.39 601.39,1682.41 604.36,1682.43 607.32,1682.45 610.29,1682.47 613.26,1682.49 616.23,1682.51 619.2,1682.53 622.16,1682.54 625.13,1682.56 628.1,1682.57 631.07,1682.59 634.04,1682.6 637,1682.62 639.97,1682.63 642.94,1682.64 645.91,1682.66 648.88,1682.67 651.84,1682.68 654.81,1682.69 657.78,1682.7 660.75,1682.71 663.72,1682.72 666.68,1682.73 669.65,1682.74 672.62,1682.75 675.59,1682.76 678.56,1682.76 681.53,1682.77 684.49,1682.78 687.46,1682.79 690.43,1682.79 693.4,1682.8 696.37,1682.81 699.33,1682.81 702.3,1682.82 705.27,1682.82 708.24,1682.83 711.21,1682.83 714.17,1682.84 717.14,1682.84 720.11,1682.85 723.08,1682.85 726.05,1682.86 729.01,1682.86 731.98,1682.87 734.95,1682.87 737.92,1682.87 740.89,1682.88 743.85,1682.88 746.82,1682.88 749.79,1682.89 752.76,1682.89 755.73,1682.89 758.69,1682.9 761.66,1682.9 764.63,1682.9 767.6,1682.9 770.57,1682.91 773.53,1682.91 776.5,1682.91 779.47,1682.91 782.44,1682.92 785.41,1682.92 788.37,1682.92 791.34,1682.92 794.31,1682.92 797.28,1682.92 800.25,1682.93 803.21,1682.93 806.18,1682.93 809.15,1682.93 812.12,1682.93 815.09,1682.93 818.05,1682.93 821.02,1682.94 823.99,1682.94 826.96,1682.94 829.93,1682.94 832.89,1682.94 835.86,1682.94 838.83,1682.94 841.8,1682.94 844.77,1682.94 847.73,1682.95 850.7,1682.95 853.67,1682.95 856.64,1682.95 859.61,1682.95 862.58,1682.95 865.54,1682.95 868.51,1682.95 871.48,1682.95 874.45,1682.95 877.42,1682.95 880.38,1682.95 883.35,1682.95 886.32,1682.95 889.29,1682.95 892.26,1682.96 895.22,1682.96 898.19,1682.96 901.16,1682.96 904.13,1682.96 907.1,1682.96 910.06,1682.96 913.03,1682.96 916,1682.96 918.97,1682.96 921.94,1682.96 924.9,1682.96 927.87,1682.96 930.84,1682.96 933.81,1682.96 936.78,1682.96 939.74,1682.96 942.71,1682.96 945.68,1682.96" fill="none" stroke="#000" stroke-width="1.75" stroke-linejoin="round"/>
<polyline points="182.8,1166.66 183.1,1172.06 183.4,1177.23 183.69,1182.2 183.99,1186.95 184.29,1191.51 184.59,1195.88 184.89,1200.07 185.18,1204.09 185.48,1207.95 185.78,1211.65 186.08,1215.2 186.38,1218.61 186.67,1221.87 186.97,1225.01 187.27,1228.03 187.57,1230.92 187.87,1233.7 188.16,1236.37 188.46,1238.94 188.76,1241.41 189.06,1243.78 189.36,1246.06 189.65,1248.25 189.95,1250.36 190.25,1252.39 190.55,1254.34 190.85,1256.23 191.14,1258.04 191.44,1259.78 191.74,1261.47 192.04,1263.09 192.34,1264.65 192.63,1266.16 192.93,1267.61 193.23,1269.02 193.53,1270.37 193.83,1271.68 194.12,1272.95 194.42,1274.17 194.72,1275.35 195.02,1276.49 195.32,1277.6 195.61,1278.67 195.91,1279.71 196.21,1280.71 196.51,1281.69 196.81,1282.63 197.1,1283.55 197.4,1284.43 197.7,1285.3 198,1286.14 198.3,1286.95 198.59,1287.74 198.89,1288.51 199.19,1289.26 199.49,1289.99 199.79,1290.7 200.08,1291.39 200.38,1292.07 200.68,1292.72 200.98,1293.37 201.28,1293.99 201.57,1294.6 201.87,1295.2 202.17,1295.79 202.47,1296.36 202.77,1296.92 203.06,1297.47 203.36,1298.01 203.66,1298.53 203.96,1299.05 204.26,1299.55 204.55,1300.05 204.85,1300.54 205.15,1301.02 205.45,1301.49 205.75,1301.95 206.04,1302.41 206.34,1302.85 206.64,1303.3 209.61,1307.36 212.58,1310.98 215.54,1314.3 218.51,1317.42 221.48,1320.38 224.45,1323.24 227.42,1326.01 230.38,1328.71 233.35,1331.35 236.32,1333.94 239.29,1336.48 242.26,1338.98 245.22,1341.43 248.19,1343.85 251.16,1346.22 254.13,1348.56 257.1,1350.85 260.06,1353.11 263.03,1355.34 266,1357.53 268.97,1359.68 271.94,1361.8 274.9,1363.88 277.87,1365.94 280.84,1367.96 283.81,1369.94 286.78,1371.9 289.74,1373.82 292.71,1375.72 295.68,1377.58 298.65,1379.41 301.62,1381.22 304.59,1382.99 307.55,1384.74 310.52,1386.46 313.49,1388.15 316.46,1389.81 319.43,1391.45 322.39,1393.06 325.36,1394.65 328.33,1396.21 331.3,1397.75 334.27,1399.26 337.23,1400.75 340.2,1402.21 343.17,1403.65 346.14,1405.07 349.11,1406.46 352.07,1407.84 355.04,1409.19 358.01,1410.51 360.98,1411.82 363.95,1413.11 366.91,1414.38 369.88,1415.62 372.85,1416.85 375.82,1418.05 378.79,1419.24 381.75,1420.41 384.72,1421.56 387.69,1422.69 390.66,1423.8 393.63,1424.9 396.59,1425.98 399.56,1427.04 402.53,1428.08 405.5,1429.11 408.47,1430.12 411.43,1431.12 414.4,1432.09 417.37,1433.06 420.34,1434.01 423.31,1434.94 426.27,1435.86 429.24,1436.76 432.21,1437.65 435.18,1438.52 438.15,1439.38 441.11,1440.23 444.08,1441.06 447.05,1441.88 450.02,1442.69 452.99,1443.48 455.95,1444.27 458.92,1445.03 461.89,1445.79 464.86,1446.54 467.83,1447.27 470.79,1447.99 473.76,1448.7 476.73,1449.4 479.7,1450.08 482.67,1450.76 485.64,1451.43 488.6,1452.08 491.57,1452.72 494.54,1453.36 497.51,1453.98 500.48,1454.6 503.44,1455.2 506.41,1455.79 509.38,1456.38 512.35,1456.95 515.32,1457.52 518.28,1458.08 521.25,1458.63 524.22,1459.17 527.19,1459.7 530.16,1460.22 533.12,1460.73 536.09,1461.24 539.06,1461.74 542.03,1462.23 545,1462.71 547.96,1463.19 550.93,1463.65 553.9,1464.11 556.87,1464.56 559.84,1465.01 562.8,1465.45 565.77,1465.88 568.74,1466.3 571.71,1466.72 574.68,1467.13 577.64,1467.53 580.61,1467.93 583.58,1468.32 586.55,1468.71 589.52,1469.09 592.48,1469.46 595.45,1469.82 598.42,1470.19 601.39,1470.54 604.36,1470.89 607.32,1471.23 610.29,1471.57 613.26,1471.91 616.23,1472.23 619.2,1472.56 622.16,1472.87 625.13,1473.19 628.1,1473.49 631.07,1473.8 634.04,1474.09 637,1474.39 639.97,1474.67 642.94,1474.96 645.91,1475.24 648.88,1475.51 651.84,1475.78 654.81,1476.05 657.78,1476.31 660.75,1476.57 663.72,1476.82 666.68,1477.07 669.65,1477.31 672.62,1477.56 675.59,1477.79 678.56,1478.03 681.53,1478.26 684.49,1478.48 687.46,1478.71 690.43,1478.92 693.4,1479.14 696.37,1479.35 699.33,1479.56 702.3,1479.77 705.27,1479.97 708.24,1480.17 711.21,1480.36 714.17,1480.56 717.14,1480.75 720.11,1480.93 723.08,1481.12 726.05,1481.3 729.01,1481.48 731.98,1481.65 734.95,1481.82 737.92,1481.99 740.89,1482.16 743.85,1482.32 746.82,1482.48 749.79,1482.64 752.76,1482.8 755.73,1482.95 758.69,1483.1 761.66,1483.25 764.63,1483.4 767.6,1483.54 770.57,1483.69 773.53,1483.83 776.5,1483.96 779.47,1484.1 782.44,1484.23 785.41,1484.36 788.37,1484.49 791.34,1484.62 794.31,1484.74 797.28,1484.87 800.25,1484.99 803.21,1485.11 806.18,1485.22 809.15,1485.34 812.12,1485.45 815.09,1485.56 818.05,1485.67 821.02,1485.78 823.99,1485.89 826.96,1485.99 829.93,1486.09 832.89,1486.19 835.86,1486.29 838.83,1486.39 841.8,1486.49 844.77,1486.58 847.73,1486.68 850.7,1486.77 853.67,1486.86 856.64,1486.95 859.61,1487.04 862.58,1487.12 865.54,1487.21 868.51,1487.29 871.48,1487.37 874.45,1487.45 877.42,1487.53 880.38,1487.61 883.35,1487.69 886.32,1487.76 889.29,1487.84 892.26,1487.91 895.22,1487.98 898.19,1488.06 901.16,1488.13 904.13,1488.19 907.1,1488.26 910.06,1488.33 913.03,1488.39 916,1488.46 918.97,1488.52 921.94,1488.58 924.9,1488.65 927.87,1488.71 930.84,1488.77 933.81,1488.82 936.78,1488.88 939.74,1488.94 942.71,1488.99 945.68,1489.05" fill="none" stroke="#000" stroke-width="1.75" stroke-linejoin="round"/>
<line x1="188.76" y1="1230.3" x2="188.76" y2="1262.7" stroke="#000" stroke-width="3.9" stroke-linecap="butt"/>
<line x1="176.76" y1="1230.3" x2="200.76" y2="1230.3" stroke="#000" stroke-width="3.9" stroke-linecap="butt"/>
<line x1="176.76" y1="1262.7" x2="200.76" y2="1262.7" stroke="#000" stroke-width="3.9" stroke-linecap="butt"/>
<line x1="194.72" y1="1251.6" x2="194.72" y2="1292.2" stroke="#000" stroke-width="3.9" stroke-linecap="butt"/>
<line x1="182.72" y1="1251.6" x2="206.72" y2="1251.6" stroke="#000" stroke-width="3.9" stroke-linecap="butt"/>
<line x1="182.72" y1="1292.2" x2="206.72" y2="1292.2" stroke="#000" stroke-width="3.9" stroke-linecap="butt"/>
<line x1="206.64" y1="1271.6" x2="206.64" y2="1316.6" stroke="#000" stroke-width="3.9" stroke-linecap="butt"/>
<line x1="194.64" y1="1271.6" x2="218.64" y2="1271.6" stroke="#000" stroke-width="3.9" stroke-linecap="butt"/>
<line x1="194.64" y1="1316.6" x2="218.64" y2="1316.6" stroke="#000" stroke-width="3.9" stroke-linecap="butt"/>
<line x1="230.48" y1="1308.6" x2="230.48" y2="1363.4" stroke="#000" stroke-width="3.9" stroke-linecap="butt"/>
<line x1="218.48" y1="1308.6" x2="242.48" y2="1308.6" stroke="#000" stroke-width="3.9" stroke-linecap="butt"/>
<line x1="218.48" y1="1363.4" x2="242.48" y2="1363.4" stroke="#000" stroke-width="3.9" stroke-linecap="butt"/>
<line x1="278.16" y1="1344.1" x2="278.16" y2="1402.9" stroke="#000" stroke-width="3.9" stroke-linecap="butt"/>
<line x1="266.16" y1="1344.1" x2="290.16" y2="1344.1" stroke="#000" stroke-width="3.9" stroke-linecap="butt"/>
<line x1="266.16" y1="1402.9" x2="290.16" y2="1402.9" stroke="#000" stroke-width="3.9" stroke-linecap="butt"/>
<line x1="373.52" y1="1380.7" x2="373.52" y2="1441.5" stroke="#000" stroke-width="3.9" stroke-linecap="butt"/>
<line x1="361.52" y1="1380.7" x2="385.52" y2="1380.7" stroke="#000" stroke-width="3.9" stroke-linecap="butt"/>
<line x1="361.52" y1="1441.5" x2="385.52" y2="1441.5" stroke="#000" stroke-width="3.9" stroke-linecap="butt"/>
<line x1="564.24" y1="1422.9" x2="564.24" y2="1498.9" stroke="#000" stroke-width="3.9" stroke-linecap="butt"/>
<line x1="552.24" y1="1422.9" x2="576.24" y2="1422.9" stroke="#000" stroke-width="3.9" stroke-linecap="butt"/>
<line x1="552.24" y1="1498.9" x2="576.24" y2="1498.9" stroke="#000" stroke-width="3.9" stroke-linecap="butt"/>
<line x1="945.68" y1="1452.9" x2="945.68" y2="1531.9" stroke="#000" stroke-width="3.9" stroke-linecap="butt"/>
<line x1="933.68" y1="1452.9" x2="957.68" y2="1452.9" stroke="#000" stroke-width="3.9" stroke-linecap="butt"/>
<line x1="933.68" y1="1531.9" x2="957.68" y2="1531.9" stroke="#000" stroke-width="3.9" stroke-linecap="butt"/>
<rect x="164.5" y="1147.1" width="36.6" height="36.6" fill="none" stroke="#000" stroke-width="1.9"/>
<rect x="170.46" y="1228.2" width="36.6" height="36.6" fill="none" stroke="#000" stroke-width="1.9"/>
<rect x="176.42" y="1253.6" width="36.6" height="36.6" fill="none" stroke="#000" stroke-width="1.9"/>
<rect x="188.34" y="1275.8" width="36.6" height="36.6" fill="none" stroke="#000" stroke-width="1.9"/>
<rect x="212.18" y="1317.7" width="36.6" height="36.6" fill="none" stroke="#000" stroke-width="1.9"/>
<rect x="259.86" y="1355.2" width="36.6" height="36.6" fill="none" stroke="#000" stroke-width="1.9"/>
<rect x="355.22" y="1392.8" width="36.6" height="36.6" fill="none" stroke="#000" stroke-width="1.9"/>
<rect x="545.94" y="1442.6" width="36.6" height="36.6" fill="none" stroke="#000" stroke-width="1.9"/>
<rect x="927.38" y="1474.1" width="36.6" height="36.6" fill="none" stroke="#000" stroke-width="1.9"/>
<line x1="188.76" y1="1329.5" x2="188.76" y2="1421.1" stroke="#000" stroke-width="3.9" stroke-linecap="butt"/>
<line x1="176.76" y1="1329.5" x2="200.76" y2="1329.5" stroke="#000" stroke-width="3.9" stroke-linecap="butt"/>
<line x1="176.76" y1="1421.1" x2="200.76" y2="1421.1" stroke="#000" stroke-width="3.9" stroke-linecap="butt"/>
<line x1="194.72" y1="1436.8" x2="194.72" y2="1514.4" stroke="#000" stroke-width="3.9" stroke-linecap="butt"/>
<line x1="182.72" y1="1436.8" x2="206.72" y2="1436.8" stroke="#000" stroke-width="3.9" stroke-linecap="butt"/>
<line x1="182.72" y1="1514.4" x2="206.72" y2="1514.4" stroke="#000" stroke-width="3.9" stroke-linecap="butt"/>
<line x1="206.64" y1="1511.9" x2="206.64" y2="1603.3" stroke="#000" stroke-width="3.9" stroke-linecap="butt"/>
<line x1="194.64" y1="1511.9" x2="218.64" y2="1511.9" stroke="#000" stroke-width="3.9" stroke-linecap="butt"/>
<line x1="194.64" y1="1603.3" x2="218.64" y2="1603.3" stroke="#000" stroke-width="3.9" stroke-linecap="butt"/>
<line x1="230.48" y1="1570" x2="230.48" y2="1662.4" stroke="#000" stroke-width="3.9" stroke-linecap="butt"/>
<line x1="218.48" y1="1570" x2="242.48" y2="1570" stroke="#000" stroke-width="3.9" stroke-linecap="butt"/>
<line x1="218.48" y1="1662.4" x2="242.48" y2="1662.4" stroke="#000" stroke-width="3.9" stroke-linecap="butt"/>
<line x1="278.16" y1="1594.4" x2="278.16" y2="1696.4" stroke="#000" stroke-width="3.9" stroke-linecap="butt"/>
<line x1="266.16" y1="1594.4" x2="290.16" y2="1594.4" stroke="#000" stroke-width="3.9" stroke-linecap="butt"/>
<line x1="266.16" y1="1696.4" x2="290.16" y2="1696.4" stroke="#000" stroke-width="3.9" stroke-linecap="butt"/>
<line x1="373.52" y1="1613.2" x2="373.52" y2="1722.4" stroke="#000" stroke-width="3.9" stroke-linecap="butt"/>
<line x1="361.52" y1="1613.2" x2="385.52" y2="1613.2" stroke="#000" stroke-width="3.9" stroke-linecap="butt"/>
<line x1="361.52" y1="1722.4" x2="385.52" y2="1722.4" stroke="#000" stroke-width="3.9" stroke-linecap="butt"/>
<line x1="564.24" y1="1625.5" x2="564.24" y2="1735.5" stroke="#000" stroke-width="3.9" stroke-linecap="butt"/>
<line x1="552.24" y1="1625.5" x2="576.24" y2="1625.5" stroke="#000" stroke-width="3.9" stroke-linecap="butt"/>
<line x1="552.24" y1="1735.5" x2="576.24" y2="1735.5" stroke="#000" stroke-width="3.9" stroke-linecap="butt"/>
<line x1="945.68" y1="1631.8" x2="945.68" y2="1745" stroke="#000" stroke-width="3.9" stroke-linecap="butt"/>
<line x1="933.68" y1="1631.8" x2="957.68" y2="1631.8" stroke="#000" stroke-width="3.9" stroke-linecap="butt"/>
<line x1="933.68" y1="1745" x2="957.68" y2="1745" stroke="#000" stroke-width="3.9" stroke-linecap="butt"/>
<rect x="163.5" y="1146.1" width="38.6" height="38.6"/>
<rect x="169.46" y="1356" width="38.6" height="38.6"/>
<rect x="175.42" y="1456.3" width="38.6" height="38.6"/>
<rect x="187.34" y="1538.3" width="38.6" height="38.6"/>
<rect x="211.18" y="1596.9" width="38.6" height="38.6"/>
<rect x="258.86" y="1626.1" width="38.6" height="38.6"/>
<rect x="354.22" y="1648.5" width="38.6" height="38.6"/>
<rect x="544.94" y="1661.2" width="38.6" height="38.6"/>
<rect x="926.38" y="1669.1" width="38.6" height="38.6"/>
<rect x="208.3" y="1834.1" width="32.6" height="32.6"/>
<rect x="209.3" y="1897.4" width="30.6" height="30.6" fill="none" stroke="#000" stroke-width="1.8"/>
<text transform="translate(281.08,1865.4) scale(0.9681,1)" font-size="48.4" font-family='"DejaVu Sans", "Liberation Sans", sans-serif'>pH 7.4</text>
<text transform="translate(281.04,1928.4) scale(0.9778,1)" font-size="48.4" font-family='"DejaVu Sans", "Liberation Sans", sans-serif'>pH 6.0</text>
<line x1="1199.2" y1="1171.4" x2="1199.2" y2="1984.8" stroke="#000" stroke-width="4" stroke-linecap="butt"/>
<line x1="1185.7" y1="1982.8" x2="1201.2" y2="1982.8" stroke="#000" stroke-width="4" stroke-linecap="butt"/>
<text transform="translate(1114.51,1997.1) scale(1.0150,1)" font-size="40.5" font-family='"DejaVu Sans", "Liberation Sans", sans-serif'>0.0</text>
<line x1="1185.7" y1="1820.92" x2="1201.2" y2="1820.92" stroke="#000" stroke-width="4" stroke-linecap="butt"/>
<text transform="translate(1115.85,1835.22) scale(1.0150,1)" font-size="40.5" font-family='"DejaVu Sans", "Liberation Sans", sans-serif'>0.2</text>
<line x1="1185.7" y1="1659.04" x2="1201.2" y2="1659.04" stroke="#000" stroke-width="4" stroke-linecap="butt"/>
<text transform="translate(1114.1,1673.34) scale(1.0150,1)" font-size="40.5" font-family='"DejaVu Sans", "Liberation Sans", sans-serif'>0.4</text>
<line x1="1185.7" y1="1497.16" x2="1201.2" y2="1497.16" stroke="#000" stroke-width="4" stroke-linecap="butt"/>
<text transform="translate(1114.41,1511.46) scale(1.0150,1)" font-size="40.5" font-family='"DejaVu Sans", "Liberation Sans", sans-serif'>0.6</text>
<line x1="1185.7" y1="1335.28" x2="1201.2" y2="1335.28" stroke="#000" stroke-width="4" stroke-linecap="butt"/>
<text transform="translate(1114.61,1349.58) scale(1.0150,1)" font-size="40.5" font-family='"DejaVu Sans", "Liberation Sans", sans-serif'>0.8</text>
<line x1="1185.7" y1="1173.4" x2="1201.2" y2="1173.4" stroke="#000" stroke-width="4" stroke-linecap="butt"/>
<text transform="translate(1114.51,1187.7) scale(1.0150,1)" font-size="40.5" font-family='"DejaVu Sans", "Liberation Sans", sans-serif'>1.0</text>
<line x1="1222" y1="1982.8" x2="2057.95" y2="1982.8" stroke="#000" stroke-width="4" stroke-linecap="butt"/>
<line x1="1224" y1="1982.8" x2="1224" y2="1996.5" stroke="#000" stroke-width="4" stroke-linecap="butt"/>
<text transform="translate(1210.14,2043.4) scale(1.0000,1)" font-size="40.5" font-family='"DejaVu Sans", "Liberation Sans", sans-serif'>0</text>
<line x1="1342.85" y1="1982.8" x2="1342.85" y2="1996.5" stroke="#000" stroke-width="4" stroke-linecap="butt"/>
<text transform="translate(1316.87,2043.4) scale(1.0000,1)" font-size="40.5" font-family='"DejaVu Sans", "Liberation Sans", sans-serif'>10</text>
<line x1="1461.7" y1="1982.8" x2="1461.7" y2="1996.5" stroke="#000" stroke-width="4" stroke-linecap="butt"/>
<text transform="translate(1436.48,2043.4) scale(1.0000,1)" font-size="40.5" font-family='"DejaVu Sans", "Liberation Sans", sans-serif'>20</text>
<line x1="1580.55" y1="1982.8" x2="1580.55" y2="1996.5" stroke="#000" stroke-width="4" stroke-linecap="butt"/>
<text transform="translate(1555.28,2043.4) scale(1.0000,1)" font-size="40.5" font-family='"DejaVu Sans", "Liberation Sans", sans-serif'>30</text>
<line x1="1699.4" y1="1982.8" x2="1699.4" y2="1996.5" stroke="#000" stroke-width="4" stroke-linecap="butt"/>
<text transform="translate(1674.69,2043.4) scale(1.0000,1)" font-size="40.5" font-family='"DejaVu Sans", "Liberation Sans", sans-serif'>40</text>
<line x1="1818.25" y1="1982.8" x2="1818.25" y2="1996.5" stroke="#000" stroke-width="4" stroke-linecap="butt"/>
<text transform="translate(1792.93,2043.4) scale(1.0000,1)" font-size="40.5" font-family='"DejaVu Sans", "Liberation Sans", sans-serif'>50</text>
<line x1="1937.1" y1="1982.8" x2="1937.1" y2="1996.5" stroke="#000" stroke-width="4" stroke-linecap="butt"/>
<text transform="translate(1911.93,2043.4) scale(1.0000,1)" font-size="40.5" font-family='"DejaVu Sans", "Liberation Sans", sans-serif'>60</text>
<line x1="2055.95" y1="1982.8" x2="2055.95" y2="1996.5" stroke="#000" stroke-width="4" stroke-linecap="butt"/>
<text transform="translate(2030.53,2043.4) scale(1.0000,1)" font-size="40.5" font-family='"DejaVu Sans", "Liberation Sans", sans-serif'>70</text>
<text transform="translate(1384.07,2095.2) scale(0.9888,1)" font-size="46" font-family='"DejaVu Sans", "Liberation Sans", sans-serif'>Interpulse duration (s)</text>
<text transform="translate(1086.2,1637.6) rotate(-90) scale(1.1479,1)" font-size="50" font-family='"DejaVu Sans", "Liberation Sans", sans-serif'>I/I</text>
<text transform="translate(1103.4,1587.54) rotate(-90) scale(0.8502,1)" font-size="35.5" font-family='"DejaVu Sans", "Liberation Sans", sans-serif'>max</text>
<text transform="translate(1053.38,1187.6) scale(1.0167,1)" font-size="44" font-family='"Liberation Sans", sans-serif' font-weight="bold">D</text>
<polyline points="1224,1941.33 1224.3,1915.51 1224.59,1890.85 1224.89,1867.31 1225.19,1844.83 1225.49,1823.36 1225.78,1802.86 1226.08,1783.29 1226.38,1764.59 1226.67,1746.73 1226.97,1729.66 1227.27,1713.36 1227.57,1697.78 1227.86,1682.9 1228.16,1668.67 1228.46,1655.08 1228.75,1642.08 1229.05,1629.65 1229.35,1617.77 1229.65,1606.41 1229.94,1595.55 1230.24,1585.15 1230.54,1575.21 1230.83,1565.69 1231.13,1556.59 1231.43,1547.87 1231.73,1539.53 1232.02,1531.54 1232.32,1523.9 1232.62,1516.57 1232.91,1509.55 1233.21,1502.83 1233.51,1496.38 1233.81,1490.2 1234.1,1484.28 1234.4,1478.6 1234.7,1473.15 1234.99,1467.92 1235.29,1462.91 1235.59,1458.09 1235.88,1453.47 1236.18,1449.02 1236.48,1444.76 1236.78,1440.66 1237.07,1436.71 1237.37,1432.92 1237.67,1429.28 1237.96,1425.77 1238.26,1422.39 1238.56,1419.14 1238.86,1416.01 1239.15,1413 1239.45,1410.09 1239.75,1407.29 1240.04,1404.58 1240.34,1401.97 1240.64,1399.46 1240.94,1397.02 1241.23,1394.67 1241.53,1392.4 1241.83,1390.21 1242.12,1388.09 1242.42,1386.03 1242.72,1384.04 1243.02,1382.12 1243.31,1380.25 1243.61,1378.44 1243.91,1376.69 1244.2,1374.99 1244.5,1373.34 1244.8,1371.73 1245.1,1370.17 1245.39,1368.66 1245.69,1367.18 1245.99,1365.75 1246.28,1364.36 1246.58,1363 1246.88,1361.67 1247.18,1360.38 1247.47,1359.12 1247.77,1357.9 1250.73,1347.08 1253.69,1338.19 1256.65,1330.6 1259.61,1323.9 1262.57,1317.84 1265.53,1312.26 1268.49,1307.06 1271.44,1302.17 1274.4,1297.55 1277.36,1293.17 1280.32,1288.99 1283.28,1285.01 1286.24,1281.22 1289.2,1277.59 1292.16,1274.13 1295.12,1270.82 1298.08,1267.66 1301.04,1264.64 1304,1261.75 1306.96,1258.99 1309.92,1256.35 1312.87,1253.83 1315.83,1251.41 1318.79,1249.11 1321.75,1246.9 1324.71,1244.79 1327.67,1242.78 1330.63,1240.85 1333.59,1239.01 1336.55,1237.25 1339.51,1235.56 1342.47,1233.95 1345.43,1232.41 1348.39,1230.94 1351.35,1229.53 1354.31,1228.19 1357.26,1226.9 1360.22,1225.67 1363.18,1224.5 1366.14,1223.38 1369.1,1222.3 1372.06,1221.27 1375.02,1220.29 1377.98,1219.35 1380.94,1218.46 1383.9,1217.6 1386.86,1216.78 1389.82,1215.99 1392.78,1215.24 1395.74,1214.53 1398.7,1213.84 1401.65,1213.19 1404.61,1212.56 1407.57,1211.96 1410.53,1211.39 1413.49,1210.84 1416.45,1210.32 1419.41,1209.82 1422.37,1209.34 1425.33,1208.88 1428.29,1208.44 1431.25,1208.03 1434.21,1207.63 1437.17,1207.25 1440.13,1206.88 1443.08,1206.53 1446.04,1206.2 1449,1205.88 1451.96,1205.57 1454.92,1205.28 1457.88,1205 1460.84,1204.74 1463.8,1204.48 1466.76,1204.24 1469.72,1204 1472.68,1203.78 1475.64,1203.57 1478.6,1203.36 1481.56,1203.17 1484.52,1202.98 1487.47,1202.81 1490.43,1202.64 1493.39,1202.47 1496.35,1202.32 1499.31,1202.17 1502.27,1202.03 1505.23,1201.89 1508.19,1201.76 1511.15,1201.64 1514.11,1201.52 1517.07,1201.4 1520.03,1201.3 1522.99,1201.19 1525.95,1201.09 1528.91,1201 1531.86,1200.91 1534.82,1200.82 1537.78,1200.74 1540.74,1200.66 1543.7,1200.58 1546.66,1200.51 1549.62,1200.44 1552.58,1200.38 1555.54,1200.31 1558.5,1200.25 1561.46,1200.19 1564.42,1200.14 1567.38,1200.09 1570.34,1200.03 1573.29,1199.99 1576.25,1199.94 1579.21,1199.9 1582.17,1199.85 1585.13,1199.81 1588.09,1199.77 1591.05,1199.74 1594.01,1199.7 1596.97,1199.67 1599.93,1199.64 1602.89,1199.61 1605.85,1199.58 1608.81,1199.55 1611.77,1199.52 1614.73,1199.5 1617.68,1199.47 1620.64,1199.45 1623.6,1199.42 1626.56,1199.4 1629.52,1199.38 1632.48,1199.36 1635.44,1199.34 1638.4,1199.33 1641.36,1199.31 1644.32,1199.29 1647.28,1199.28 1650.24,1199.26 1653.2,1199.25 1656.16,1199.23 1659.12,1199.22 1662.07,1199.21 1665.03,1199.2 1667.99,1199.18 1670.95,1199.17 1673.91,1199.16 1676.87,1199.15 1679.83,1199.14 1682.79,1199.13 1685.75,1199.13 1688.71,1199.12 1691.67,1199.11 1694.63,1199.1 1697.59,1199.09 1700.55,1199.09 1703.5,1199.08 1706.46,1199.07 1709.42,1199.07 1712.38,1199.06 1715.34,1199.06 1718.3,1199.05 1721.26,1199.05 1724.22,1199.04 1727.18,1199.04 1730.14,1199.03 1733.1,1199.03 1736.06,1199.02 1739.02,1199.02 1741.98,1199.02 1744.94,1199.01 1747.89,1199.01 1750.85,1199.01 1753.81,1199 1756.77,1199 1759.73,1199 1762.69,1198.99 1765.65,1198.99 1768.61,1198.99 1771.57,1198.99 1774.53,1198.98 1777.49,1198.98 1780.45,1198.98 1783.41,1198.98 1786.37,1198.98 1789.33,1198.97 1792.28,1198.97 1795.24,1198.97 1798.2,1198.97 1801.16,1198.97 1804.12,1198.97 1807.08,1198.97 1810.04,1198.96 1813,1198.96 1815.96,1198.96 1818.92,1198.96 1821.88,1198.96 1824.84,1198.96 1827.8,1198.96 1830.76,1198.96 1833.71,1198.96 1836.67,1198.95 1839.63,1198.95 1842.59,1198.95 1845.55,1198.95 1848.51,1198.95 1851.47,1198.95 1854.43,1198.95 1857.39,1198.95 1860.35,1198.95 1863.31,1198.95 1866.27,1198.95 1869.23,1198.95 1872.19,1198.95 1875.15,1198.95 1878.1,1198.95 1881.06,1198.95 1884.02,1198.94 1886.98,1198.94 1889.94,1198.94 1892.9,1198.94 1895.86,1198.94 1898.82,1198.94 1901.78,1198.94 1904.74,1198.94 1907.7,1198.94 1910.66,1198.94 1913.62,1198.94 1916.58,1198.94 1919.54,1198.94 1922.49,1198.94 1925.45,1198.94 1928.41,1198.94 1931.37,1198.94 1934.33,1198.94 1937.29,1198.94 1940.25,1198.94 1943.21,1198.94 1946.17,1198.94 1949.13,1198.94 1952.09,1198.94 1955.05,1198.94 1958.01,1198.94 1960.97,1198.94 1963.92,1198.94 1966.88,1198.94 1969.84,1198.94 1972.8,1198.94 1975.76,1198.94 1978.72,1198.94 1981.68,1198.94 1984.64,1198.94" fill="none" stroke="#000" stroke-width="1.75" stroke-linejoin="round"/>
<polyline points="1224,1767.61 1224.3,1742.45 1224.59,1718.94 1224.89,1696.98 1225.19,1676.45 1225.49,1657.27 1225.78,1639.34 1226.08,1622.58 1226.38,1606.91 1226.67,1592.25 1226.97,1578.55 1227.27,1565.72 1227.57,1553.73 1227.86,1542.5 1228.16,1531.99 1228.46,1522.14 1228.75,1512.92 1229.05,1504.29 1229.35,1496.19 1229.65,1488.61 1229.94,1481.49 1230.24,1474.82 1230.54,1468.56 1230.83,1462.68 1231.13,1457.15 1231.43,1451.97 1231.73,1447.09 1232.02,1442.5 1232.32,1438.19 1232.62,1434.13 1232.91,1430.3 1233.21,1426.69 1233.51,1423.29 1233.81,1420.08 1234.1,1417.05 1234.4,1414.19 1234.7,1411.48 1234.99,1408.92 1235.29,1406.49 1235.59,1404.19 1235.88,1402.01 1236.18,1399.94 1236.48,1397.97 1236.78,1396.09 1237.07,1394.31 1237.37,1392.61 1237.67,1390.99 1237.96,1389.44 1238.26,1387.96 1238.56,1386.55 1238.86,1385.19 1239.15,1383.89 1239.45,1382.64 1239.75,1381.44 1240.04,1380.28 1240.34,1379.17 1240.64,1378.1 1240.94,1377.06 1241.23,1376.06 1241.53,1375.09 1241.83,1374.16 1242.12,1373.25 1242.42,1372.36 1242.72,1371.5 1243.02,1370.67 1243.31,1369.86 1243.61,1369.06 1243.91,1368.29 1244.2,1367.54 1244.5,1366.8 1244.8,1366.07 1245.1,1365.37 1245.39,1364.67 1245.69,1363.99 1245.99,1363.32 1246.28,1362.67 1246.58,1362.02 1246.88,1361.38 1247.18,1360.76 1247.47,1360.14 1247.77,1359.53 1250.73,1353.85 1253.69,1348.65 1256.65,1343.76 1259.61,1339.08 1262.57,1334.57 1265.53,1330.21 1268.49,1325.98 1271.44,1321.87 1274.4,1317.87 1277.36,1313.99 1280.32,1310.22 1283.28,1306.55 1286.24,1302.99 1289.2,1299.52 1292.16,1296.15 1295.12,1292.87 1298.08,1289.68 1301.04,1286.59 1304,1283.57 1306.96,1280.64 1309.92,1277.8 1312.87,1275.03 1315.83,1272.34 1318.79,1269.72 1321.75,1267.17 1324.71,1264.7 1327.67,1262.29 1330.63,1259.95 1333.59,1257.68 1336.55,1255.47 1339.51,1253.32 1342.47,1251.23 1345.43,1249.2 1348.39,1247.22 1351.35,1245.3 1354.31,1243.43 1357.26,1241.62 1360.22,1239.85 1363.18,1238.13 1366.14,1236.46 1369.1,1234.84 1372.06,1233.26 1375.02,1231.73 1377.98,1230.24 1380.94,1228.79 1383.9,1227.38 1386.86,1226.01 1389.82,1224.67 1392.78,1223.38 1395.74,1222.12 1398.7,1220.89 1401.65,1219.7 1404.61,1218.54 1407.57,1217.42 1410.53,1216.32 1413.49,1215.26 1416.45,1214.22 1419.41,1213.22 1422.37,1212.24 1425.33,1211.29 1428.29,1210.36 1431.25,1209.46 1434.21,1208.59 1437.17,1207.74 1440.13,1206.91 1443.08,1206.11 1446.04,1205.33 1449,1204.57 1451.96,1203.83 1454.92,1203.11 1457.88,1202.41 1460.84,1201.73 1463.8,1201.07 1466.76,1200.43 1469.72,1199.81 1472.68,1199.2 1475.64,1198.61 1478.6,1198.04 1481.56,1197.48 1484.52,1196.94 1487.47,1196.41 1490.43,1195.9 1493.39,1195.4 1496.35,1194.92 1499.31,1194.44 1502.27,1193.99 1505.23,1193.54 1508.19,1193.11 1511.15,1192.69 1514.11,1192.28 1517.07,1191.88 1520.03,1191.49 1522.99,1191.12 1525.95,1190.75 1528.91,1190.4 1531.86,1190.05 1534.82,1189.71 1537.78,1189.39 1540.74,1189.07 1543.7,1188.76 1546.66,1188.46 1549.62,1188.17 1552.58,1187.88 1555.54,1187.61 1558.5,1187.34 1561.46,1187.08 1564.42,1186.83 1567.38,1186.58 1570.34,1186.34 1573.29,1186.11 1576.25,1185.88 1579.21,1185.66 1582.17,1185.44 1585.13,1185.24 1588.09,1185.03 1591.05,1184.84 1594.01,1184.64 1596.97,1184.46 1599.93,1184.28 1602.89,1184.1 1605.85,1183.93 1608.81,1183.76 1611.77,1183.6 1614.73,1183.44 1617.68,1183.29 1620.64,1183.14 1623.6,1183 1626.56,1182.86 1629.52,1182.72 1632.48,1182.59 1635.44,1182.46 1638.4,1182.33 1641.36,1182.21 1644.32,1182.09 1647.28,1181.98 1650.24,1181.86 1653.2,1181.76 1656.16,1181.65 1659.12,1181.55 1662.07,1181.45 1665.03,1181.35 1667.99,1181.25 1670.95,1181.16 1673.91,1181.07 1676.87,1180.98 1679.83,1180.9 1682.79,1180.82 1685.75,1180.74 1688.71,1180.66 1691.67,1180.58 1694.63,1180.51 1697.59,1180.44 1700.55,1180.37 1703.5,1180.3 1706.46,1180.23 1709.42,1180.17 1712.38,1180.11 1715.34,1180.05 1718.3,1179.99 1721.26,1179.93 1724.22,1179.88 1727.18,1179.82 1730.14,1179.77 1733.1,1179.72 1736.06,1179.67 1739.02,1179.62 1741.98,1179.57 1744.94,1179.53 1747.89,1179.48 1750.85,1179.44 1753.81,1179.4 1756.77,1179.36 1759.73,1179.32 1762.69,1179.28 1765.65,1179.24 1768.61,1179.21 1771.57,1179.17 1774.53,1179.14 1777.49,1179.1 1780.45,1179.07 1783.41,1179.04 1786.37,1179.01 1789.33,1178.98 1792.28,1178.95 1795.24,1178.92 1798.2,1178.89 1801.16,1178.87 1804.12,1178.84 1807.08,1178.81 1810.04,1178.79 1813,1178.77 1815.96,1178.74 1818.92,1178.72 1821.88,1178.7 1824.84,1178.68 1827.8,1178.66 1830.76,1178.64 1833.71,1178.62 1836.67,1178.6 1839.63,1178.58 1842.59,1178.56 1845.55,1178.54 1848.51,1178.53 1851.47,1178.51 1854.43,1178.49 1857.39,1178.48 1860.35,1178.46 1863.31,1178.45 1866.27,1178.43 1869.23,1178.42 1872.19,1178.4 1875.15,1178.39 1878.1,1178.38 1881.06,1178.37 1884.02,1178.35 1886.98,1178.34 1889.94,1178.33 1892.9,1178.32 1895.86,1178.31 1898.82,1178.3 1901.78,1178.29 1904.74,1178.28 1907.7,1178.27 1910.66,1178.26 1913.62,1178.25 1916.58,1178.24 1919.54,1178.23 1922.49,1178.22 1925.45,1178.21 1928.41,1178.21 1931.37,1178.2 1934.33,1178.19 1937.29,1178.18 1940.25,1178.18 1943.21,1178.17 1946.17,1178.16 1949.13,1178.16 1952.09,1178.15 1955.05,1178.14 1958.01,1178.14 1960.97,1178.13 1963.92,1178.13 1966.88,1178.12 1969.84,1178.12 1972.8,1178.11 1975.76,1178.11 1978.72,1178.1 1981.68,1178.1 1984.64,1178.09" fill="none" stroke="#000" stroke-width="1.75" stroke-linejoin="round"/>
<line x1="1224" y1="1710.5" x2="1224" y2="1825.9" stroke="#000" stroke-width="3.9" stroke-linecap="butt"/>
<line x1="1212" y1="1710.5" x2="1236" y2="1710.5" stroke="#000" stroke-width="3.9" stroke-linecap="butt"/>
<line x1="1212" y1="1825.9" x2="1236" y2="1825.9" stroke="#000" stroke-width="3.9" stroke-linecap="butt"/>
<line x1="1229.94" y1="1425.4" x2="1229.94" y2="1527.4" stroke="#000" stroke-width="3.9" stroke-linecap="butt"/>
<line x1="1217.94" y1="1425.4" x2="1241.94" y2="1425.4" stroke="#000" stroke-width="3.9" stroke-linecap="butt"/>
<line x1="1217.94" y1="1527.4" x2="1241.94" y2="1527.4" stroke="#000" stroke-width="3.9" stroke-linecap="butt"/>
<line x1="1235.88" y1="1371.3" x2="1235.88" y2="1456.1" stroke="#000" stroke-width="3.9" stroke-linecap="butt"/>
<line x1="1223.88" y1="1371.3" x2="1247.88" y2="1371.3" stroke="#000" stroke-width="3.9" stroke-linecap="butt"/>
<line x1="1223.88" y1="1456.1" x2="1247.88" y2="1456.1" stroke="#000" stroke-width="3.9" stroke-linecap="butt"/>
<line x1="1247.77" y1="1319" x2="1247.77" y2="1377" stroke="#000" stroke-width="3.9" stroke-linecap="butt"/>
<line x1="1235.77" y1="1319" x2="1259.77" y2="1319" stroke="#000" stroke-width="3.9" stroke-linecap="butt"/>
<line x1="1235.77" y1="1377" x2="1259.77" y2="1377" stroke="#000" stroke-width="3.9" stroke-linecap="butt"/>
<line x1="1271.54" y1="1290.5" x2="1271.54" y2="1367.5" stroke="#000" stroke-width="3.9" stroke-linecap="butt"/>
<line x1="1259.54" y1="1290.5" x2="1283.54" y2="1290.5" stroke="#000" stroke-width="3.9" stroke-linecap="butt"/>
<line x1="1259.54" y1="1367.5" x2="1283.54" y2="1367.5" stroke="#000" stroke-width="3.9" stroke-linecap="butt"/>
<line x1="1319.08" y1="1243" x2="1319.08" y2="1286" stroke="#000" stroke-width="3.9" stroke-linecap="butt"/>
<line x1="1307.08" y1="1243" x2="1331.08" y2="1243" stroke="#000" stroke-width="3.9" stroke-linecap="butt"/>
<line x1="1307.08" y1="1286" x2="1331.08" y2="1286" stroke="#000" stroke-width="3.9" stroke-linecap="butt"/>
<line x1="1604.32" y1="1181.5" x2="1604.32" y2="1196.5" stroke="#000" stroke-width="3.9" stroke-linecap="butt"/>
<line x1="1592.32" y1="1181.5" x2="1616.32" y2="1181.5" stroke="#000" stroke-width="3.9" stroke-linecap="butt"/>
<line x1="1592.32" y1="1196.5" x2="1616.32" y2="1196.5" stroke="#000" stroke-width="3.9" stroke-linecap="butt"/>
<rect x="1205.7" y="1749.9" width="36.6" height="36.6" fill="none" stroke="#000" stroke-width="1.9"/>
<rect x="1211.64" y="1458.1" width="36.6" height="36.6" fill="none" stroke="#000" stroke-width="1.9"/>
<rect x="1217.59" y="1395.4" width="36.6" height="36.6" fill="none" stroke="#000" stroke-width="1.9"/>
<rect x="1229.47" y="1329.7" width="36.6" height="36.6" fill="none" stroke="#000" stroke-width="1.9"/>
<rect x="1253.24" y="1310.7" width="36.6" height="36.6" fill="none" stroke="#000" stroke-width="1.9"/>
<rect x="1300.78" y="1246.2" width="36.6" height="36.6" fill="none" stroke="#000" stroke-width="1.9"/>
<rect x="1395.86" y="1198.2" width="36.6" height="36.6" fill="none" stroke="#000" stroke-width="1.9"/>
<rect x="1586.02" y="1170.7" width="36.6" height="36.6" fill="none" stroke="#000" stroke-width="1.9"/>
<rect x="1966.34" y="1156.2" width="36.6" height="36.6" fill="none" stroke="#000" stroke-width="1.9"/>
<line x1="1224" y1="1897" x2="1224" y2="1983" stroke="#000" stroke-width="3.9" stroke-linecap="butt"/>
<line x1="1212" y1="1897" x2="1236" y2="1897" stroke="#000" stroke-width="3.9" stroke-linecap="butt"/>
<line x1="1212" y1="1983" x2="1236" y2="1983" stroke="#000" stroke-width="3.9" stroke-linecap="butt"/>
<line x1="1229.94" y1="1550.9" x2="1229.94" y2="1654.1" stroke="#000" stroke-width="3.9" stroke-linecap="butt"/>
<line x1="1217.94" y1="1550.9" x2="1241.94" y2="1550.9" stroke="#000" stroke-width="3.9" stroke-linecap="butt"/>
<line x1="1217.94" y1="1654.1" x2="1241.94" y2="1654.1" stroke="#000" stroke-width="3.9" stroke-linecap="butt"/>
<line x1="1235.88" y1="1423.2" x2="1235.88" y2="1465.8" stroke="#000" stroke-width="3.9" stroke-linecap="butt"/>
<line x1="1223.88" y1="1423.2" x2="1247.88" y2="1423.2" stroke="#000" stroke-width="3.9" stroke-linecap="butt"/>
<line x1="1223.88" y1="1465.8" x2="1247.88" y2="1465.8" stroke="#000" stroke-width="3.9" stroke-linecap="butt"/>
<line x1="1247.77" y1="1339" x2="1247.77" y2="1375" stroke="#000" stroke-width="3.9" stroke-linecap="butt"/>
<line x1="1235.77" y1="1339" x2="1259.77" y2="1339" stroke="#000" stroke-width="3.9" stroke-linecap="butt"/>
<line x1="1235.77" y1="1375" x2="1259.77" y2="1375" stroke="#000" stroke-width="3.9" stroke-linecap="butt"/>
<line x1="1271.54" y1="1285.6" x2="1271.54" y2="1341.6" stroke="#000" stroke-width="3.9" stroke-linecap="butt"/>
<line x1="1259.54" y1="1285.6" x2="1283.54" y2="1285.6" stroke="#000" stroke-width="3.9" stroke-linecap="butt"/>
<line x1="1259.54" y1="1341.6" x2="1283.54" y2="1341.6" stroke="#000" stroke-width="3.9" stroke-linecap="butt"/>
<line x1="1319.08" y1="1212.3" x2="1319.08" y2="1260.9" stroke="#000" stroke-width="3.9" stroke-linecap="butt"/>
<line x1="1307.08" y1="1212.3" x2="1331.08" y2="1212.3" stroke="#000" stroke-width="3.9" stroke-linecap="butt"/>
<line x1="1307.08" y1="1260.9" x2="1331.08" y2="1260.9" stroke="#000" stroke-width="3.9" stroke-linecap="butt"/>
<rect x="1204.7" y="1920.7" width="38.6" height="38.6"/>
<rect x="1210.64" y="1583.2" width="38.6" height="38.6"/>
<rect x="1216.59" y="1425.2" width="38.6" height="38.6"/>
<rect x="1228.47" y="1337.7" width="38.6" height="38.6"/>
<rect x="1252.24" y="1294.3" width="38.6" height="38.6"/>
<rect x="1299.78" y="1217.3" width="38.6" height="38.6"/>
<rect x="1394.86" y="1197.5" width="38.6" height="38.6"/>
<rect x="1585.02" y="1188.7" width="38.6" height="38.6"/>
<rect x="1965.34" y="1167.3" width="38.6" height="38.6"/>
<rect x="1337.1" y="1834.2" width="32.6" height="32.6"/>
<rect x="1338.1" y="1898.7" width="30.6" height="30.6" fill="none" stroke="#000" stroke-width="1.8"/>
<text transform="translate(1409.58,1865.8) scale(0.9681,1)" font-size="48.4" font-family='"DejaVu Sans", "Liberation Sans", sans-serif'>pH 7.4</text>
<text transform="translate(1409.54,1929) scale(0.9778,1)" font-size="48.4" font-family='"DejaVu Sans", "Liberation Sans", sans-serif'>pH 6.0</text>
<text transform="translate(997.26,45.9) scale(0.9472,1)" font-size="47" font-family='"DejaVu Sans", "Liberation Sans", sans-serif'>Na</text>
<text transform="translate(1058.78,60.1) scale(0.9080,1)" font-size="33" font-family='"DejaVu Sans", "Liberation Sans", sans-serif'>V</text>
<text transform="translate(1081.08,45.9) scale(1.0096,1)" font-size="47" font-family='"DejaVu Sans", "Liberation Sans", sans-serif'>1.2</text>
<text transform="translate(964.16,1104.7) scale(0.9472,1)" font-size="47" font-family='"DejaVu Sans", "Liberation Sans", sans-serif'>Na</text>
<text transform="translate(1024.67,1118.9) scale(0.9352,1)" font-size="33" font-family='"DejaVu Sans", "Liberation Sans", sans-serif'>V</text>
<text transform="translate(1047.64,1104.7) scale(0.9975,1)" font-size="47" font-family='"DejaVu Sans", "Liberation Sans", sans-serif'>1.5</text>
<text x="986.11" y="765.42" font-size="75.84" font-family='"Liberation Sans", sans-serif' font-weight="bold">*</text>
<text x="982.26" y="1528.35" font-size="76.1" font-family='"Liberation Sans", sans-serif' font-weight="bold">*</text>
<line x1="1564" y1="1674.1" x2="1295" y2="1752.4" stroke="#000" stroke-width="4"/>
<polygon points="1262,1762 1295.6,1742.8 1302.6,1759.7"/>
<polyline points="327.2,2398.5 526,2398.5 526,2324.2 616,2324.2" fill="none" stroke="#000" stroke-width="4" stroke-linejoin="miter"/>
<polyline points="670.5,2324.2 764.6,2324.2 764.6,2398.5 795.4,2398.5 795.4,2184.2 824.3,2184.2 824.3,2398.5 855.5,2398.5" fill="none" stroke="#000" stroke-width="4" stroke-linejoin="miter"/>
<line x1="596.8" y1="2349.5" x2="639.6" y2="2298.2" stroke="#000" stroke-width="4" stroke-linecap="butt"/>
<line x1="646" y1="2349.8" x2="688.6" y2="2298.2" stroke="#000" stroke-width="4" stroke-linecap="butt"/>
<text transform="translate(768.21,2173.3) scale(1.0332,1)" font-size="41" font-family='"DejaVu Sans", "Liberation Sans", sans-serif'>Test</text>
<text transform="translate(596.65,2286.7) scale(0.9960,1)" font-size="41" font-family='"DejaVu Sans", "Liberation Sans", sans-serif'>0-65 s</text>
<text transform="translate(388.53,2388.2) scale(0.9977,1)" font-size="41" font-family='"DejaVu Sans", "Liberation Sans", sans-serif'>30 s</text>
<text transform="translate(579.21,2384.3) scale(0.9708,1)" font-size="41" font-family='"DejaVu Sans", "Liberation Sans", sans-serif'>-50 mV</text>
<text transform="translate(333.4,2439.2) scale(0.9739,1)" font-size="41" font-family='"DejaVu Sans", "Liberation Sans", sans-serif'>-130 mV</text>
<text transform="translate(714.89,2435) scale(0.9452,1)" font-size="41" font-family='"DejaVu Sans", "Liberation Sans", sans-serif'>20 ms</text>
<text transform="translate(680.7,2476.3) scale(0.9774,1)" font-size="41" font-family='"DejaVu Sans", "Liberation Sans", sans-serif'>-130 mV</text>
<polyline points="1369.2,2193.6 1620.4,2193.6 1620.4,2334 1710,2334" fill="none" stroke="#000" stroke-width="4" stroke-linejoin="miter"/>
<polyline points="1765.5,2334 1857.2,2334 1857.2,2406.3 1887.8,2406.3 1887.8,2192 1917.3,2192 1917.3,2408.1 1946.8,2408.1" fill="none" stroke="#000" stroke-width="4" stroke-linejoin="miter"/>
<line x1="1691.8" y1="2359.8" x2="1734.2" y2="2308.2" stroke="#000" stroke-width="4" stroke-linecap="butt"/>
<line x1="1741.1" y1="2359.8" x2="1783.8" y2="2308.2" stroke="#000" stroke-width="4" stroke-linecap="butt"/>
<text transform="translate(1458.16,2183.6) scale(0.9903,1)" font-size="41" font-family='"DejaVu Sans", "Liberation Sans", sans-serif'>60 s</text>
<text transform="translate(1445.93,2234.5) scale(0.9660,1)" font-size="41" font-family='"DejaVu Sans", "Liberation Sans", sans-serif'>0 mV</text>
<text transform="translate(1858.61,2181.5) scale(1.0432,1)" font-size="41" font-family='"DejaVu Sans", "Liberation Sans", sans-serif'>Test</text>
<text transform="translate(1689.14,2300.1) scale(0.9992,1)" font-size="41" font-family='"DejaVu Sans", "Liberation Sans", sans-serif'>0-65 s</text>
<text transform="translate(1658.4,2398) scale(0.9750,1)" font-size="41" font-family='"DejaVu Sans", "Liberation Sans", sans-serif'>-110 mV</text>
<text transform="translate(1805.8,2444.7) scale(0.9427,1)" font-size="41" font-family='"DejaVu Sans", "Liberation Sans", sans-serif'>20 ms</text>
<text transform="translate(1773.92,2487.8) scale(0.9675,1)" font-size="41" font-family='"DejaVu Sans", "Liberation Sans", sans-serif'>-130 mV</text>
</svg></body></html>
